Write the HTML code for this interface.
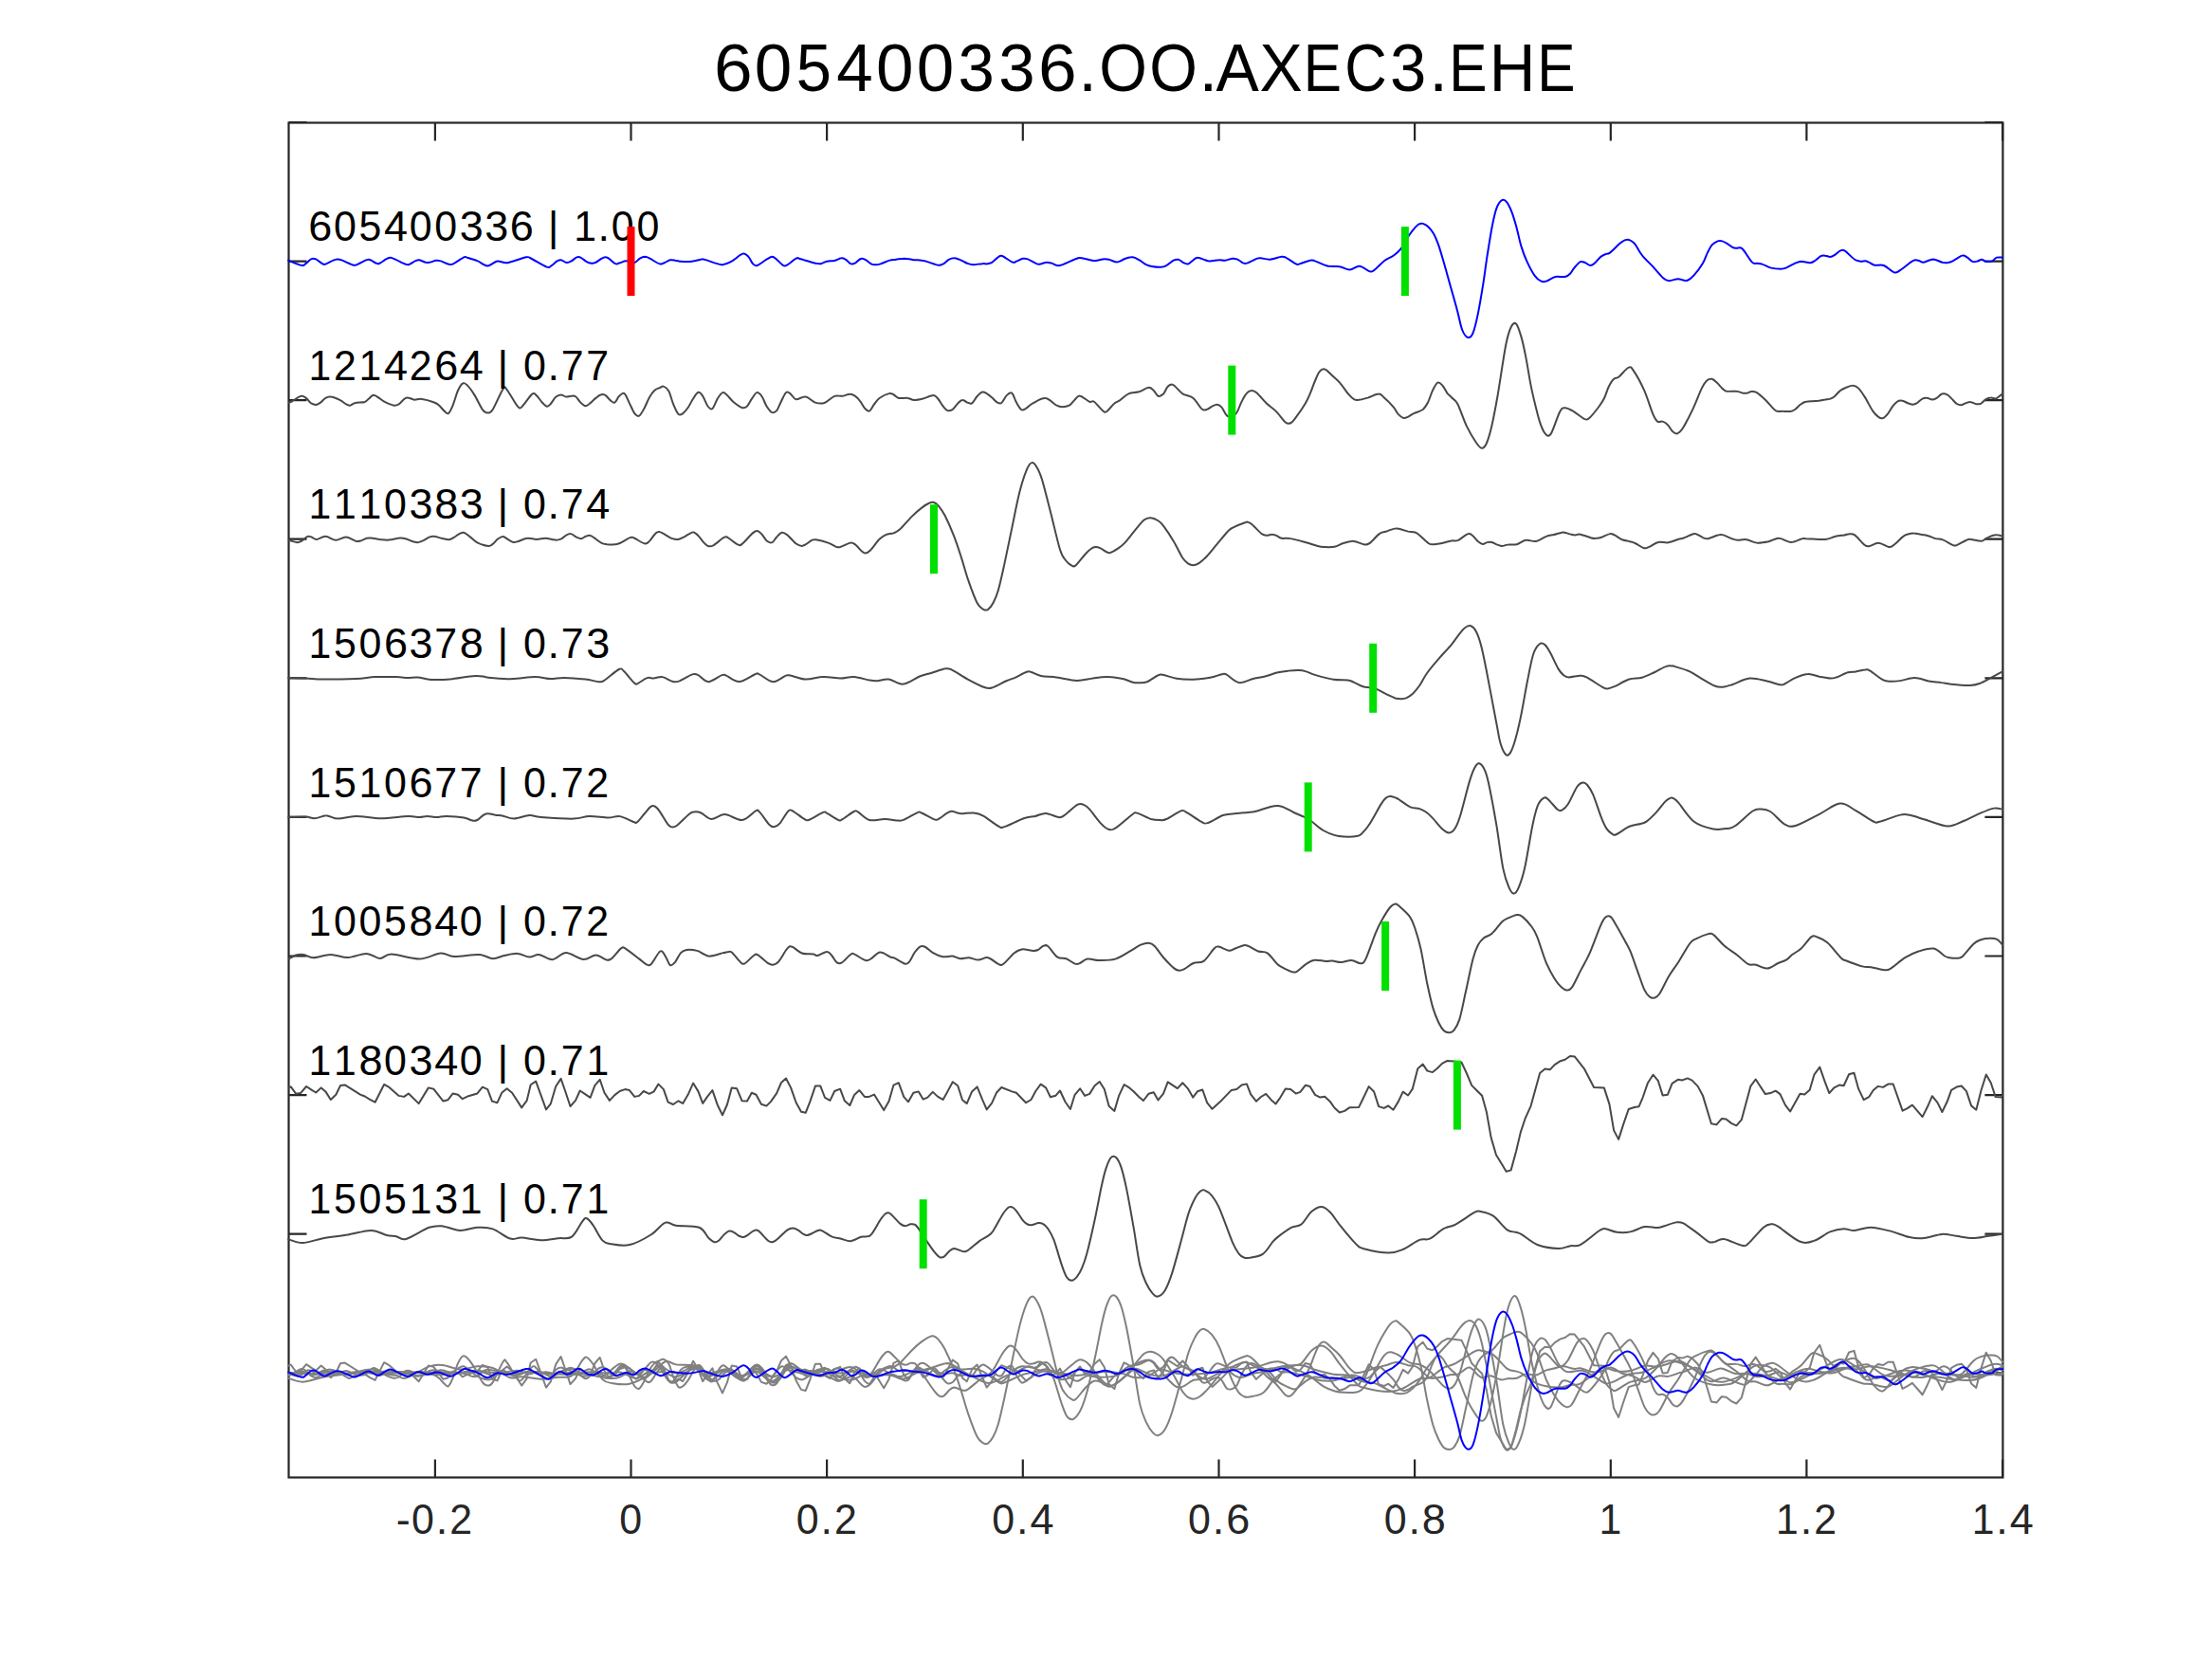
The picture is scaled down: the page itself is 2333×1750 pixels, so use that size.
<!DOCTYPE html>
<html><head><meta charset="utf-8"><style>
html,body{margin:0;padding:0;background:#fff;}
svg{display:block;}
text{font-family:"Liberation Sans",sans-serif;}
.tl{font-size:45px;fill:#262626;}
.ti{font-size:71px;fill:#000;}
.lb{font-size:45px;fill:#000;}
</style></head><body>
<svg width="2333" height="1750" viewBox="0 0 2333 1750">
<defs><path id="tr0" d="M304.1,-0.8C306.5,0.1 315.2,3.9 318.3,4.4C321.4,5.0 320.7,3.8 322.4,2.6C324.1,1.5 326.7,-1.7 328.5,-2.4C330.3,-3.2 331.3,-2.9 333.2,-2.1C335.1,-1.2 338.3,1.8 340.0,2.6C341.7,3.5 341.5,3.7 343.4,3.1C345.3,2.5 349.5,-0.1 351.5,-0.9C353.5,-1.8 354.2,-2.0 355.6,-2.1C357.0,-2.1 357.2,-2.3 359.7,-1.4C362.2,-0.5 367.9,2.4 370.5,3.3C373.1,4.2 372.6,4.8 375.3,4.1C378.0,3.3 384.2,-0.5 386.8,-1.4C389.4,-2.2 389.2,-1.8 390.9,-1.2C392.6,-0.6 395.4,1.7 397.0,2.2C398.6,2.8 398.7,3.0 400.4,2.2C402.1,1.5 405.2,-1.1 407.1,-2.1C409.0,-3.0 410.1,-3.8 411.9,-3.7C413.7,-3.5 415.3,-2.5 418.0,-1.4C420.7,-0.2 425.8,2.6 428.2,3.3C430.6,4.1 430.5,3.7 432.2,3.1C433.9,2.4 436.6,0.3 438.3,-0.4C440.0,-1.1 440.6,-1.5 442.4,-1.2C444.2,-0.9 447.5,0.9 449.2,1.3C450.9,1.8 450.8,1.7 452.6,1.3C454.4,1.0 458.1,-0.5 460.0,-0.8C461.9,-1.0 461.8,-1.1 464.1,-0.4C466.4,0.2 471.2,2.8 473.6,3.3C476.0,3.9 475.8,3.9 478.4,2.6C481.0,1.4 486.8,-3.1 489.2,-4.2C491.6,-5.2 490.2,-4.5 492.6,-3.9C495.0,-3.2 499.8,-1.9 503.4,-0.4C507.0,1.0 510.8,4.9 514.3,4.9C517.8,5.0 521.0,0.5 524.5,-0.1C528.0,-0.6 530.2,2.2 535.3,1.6C540.4,0.9 550.8,-3.4 555.0,-4.2C559.2,-4.9 556.8,-4.5 560.4,-2.8C564.0,-1.0 573.2,4.8 576.7,6.1C580.2,7.3 579.6,6.0 581.4,4.9C583.2,3.9 585.8,1.0 587.5,-0.1C589.2,-1.1 589.9,-1.6 591.6,-1.4C593.3,-1.1 595.7,1.2 597.5,1.4C599.3,1.7 600.4,1.1 602.2,0.1C604.0,-0.8 606.6,-3.6 608.3,-4.2C610.0,-4.9 610.6,-4.8 612.4,-3.9C614.2,-3.1 617.3,-0.2 619.2,0.8C621.1,1.9 622.4,2.0 623.9,2.1C625.4,2.2 625.5,2.5 628.0,1.4C630.5,0.4 635.3,-4.4 638.8,-4.2C642.3,-4.1 646.5,1.6 649.0,2.6C651.5,3.6 651.8,2.2 653.7,1.8C655.6,1.3 658.0,-0.2 660.5,-0.2C663.0,-0.2 666.3,2.2 668.7,1.8C671.1,1.3 672.9,-1.8 674.8,-2.9C676.7,-3.9 678.5,-4.6 680.2,-4.7C681.9,-4.7 682.3,-4.5 684.9,-3.2C687.5,-2.0 693.1,2.1 695.8,2.8C698.5,3.6 699.4,2.1 701.2,1.4C703.0,0.8 704.8,-0.9 706.6,-1.2C708.4,-1.6 710.3,-1.2 712.1,-0.9C713.9,-0.7 714.6,-0.0 717.5,0.1C720.4,0.3 726.1,0.5 729.7,0.1C733.3,-0.2 736.9,-1.6 739.2,-1.9C741.5,-2.2 739.7,-2.6 743.3,-1.7C746.9,-0.8 756.2,3.3 760.9,3.6C765.6,3.9 768.0,2.1 771.7,0.1C775.4,-1.8 780.3,-7.1 783.3,-7.9C786.2,-8.7 787.6,-6.5 789.4,-4.7C791.2,-2.9 792.5,1.3 794.1,2.8C795.7,4.4 796.5,5.2 798.9,4.4C801.3,3.7 805.8,-0.3 808.4,-1.9C811.0,-3.4 812.7,-4.7 814.5,-4.7C816.3,-4.7 817.4,-3.3 819.2,-1.9C821.0,-0.4 823.6,2.9 825.3,3.9C827.0,5.0 827.0,5.6 829.4,4.4C831.8,3.3 837.2,-1.7 839.6,-2.9C842.0,-4.0 840.2,-3.4 843.6,-2.6C847.0,-1.7 856.2,1.3 859.9,2.1C863.6,3.0 864.0,2.9 866.0,2.6C868.0,2.2 869.8,0.7 872.1,0.1C874.4,-0.4 877.4,0.0 880.0,-0.6C882.6,-1.1 885.5,-3.1 887.5,-3.2C889.5,-3.4 890.6,-2.6 892.2,-1.7C893.8,-0.7 895.4,1.9 897.0,2.6C898.6,3.2 899.9,3.0 901.7,2.1C903.5,1.3 906.0,-1.9 907.8,-2.6C909.6,-3.2 910.8,-2.6 912.6,-1.7C914.4,-0.8 916.9,1.9 918.7,2.8C920.5,3.8 921.7,3.8 923.4,3.8C925.1,3.8 926.3,3.6 928.8,2.8C931.3,2.0 935.6,-0.2 938.3,-0.9C941.0,-1.7 942.5,-1.5 945.1,-1.9C947.7,-2.2 950.7,-2.9 953.9,-2.9C957.1,-2.8 961.0,-1.8 964.1,-1.4C967.2,-1.1 969.7,-1.3 972.2,-0.9C974.7,-0.6 976.0,-0.0 979.0,0.8C982.0,1.7 987.2,4.0 989.9,4.2C992.6,4.5 993.5,3.5 995.3,2.6C997.1,1.6 998.9,-0.7 1000.7,-1.7C1002.5,-2.6 1004.3,-3.2 1006.1,-3.2C1007.9,-3.3 1009.1,-2.8 1011.6,-1.9C1014.1,-0.9 1018.6,1.7 1021.1,2.6C1023.6,3.5 1024.0,3.6 1026.5,3.6C1029.0,3.6 1033.5,2.7 1036.0,2.6C1038.5,2.4 1039.7,3.0 1041.4,2.8C1043.1,2.7 1044.3,2.6 1046.1,1.4C1047.9,0.3 1050.5,-2.8 1052.3,-3.9C1054.1,-5.1 1054.4,-6.4 1057.0,-5.6C1059.6,-4.7 1065.2,0.2 1067.8,1.1C1070.4,2.0 1070.9,0.4 1072.6,-0.2C1074.3,-0.8 1076.2,-2.2 1078.0,-2.6C1079.8,-2.9 1080.8,-3.3 1083.4,-2.4C1086.0,-1.5 1091.1,2.0 1093.6,2.8C1096.1,3.7 1096.7,2.9 1098.4,2.6C1100.1,2.3 1102.0,1.1 1103.8,1.1C1105.6,1.0 1107.4,1.6 1109.2,2.1C1111.0,2.7 1112.8,4.2 1114.6,4.4C1116.4,4.7 1116.7,5.0 1120.1,3.8C1123.5,2.7 1131.7,-1.3 1135.0,-2.6C1138.3,-3.8 1137.2,-3.8 1139.7,-3.6C1142.2,-3.3 1147.3,-1.8 1149.9,-1.2C1152.5,-0.8 1152.8,-0.4 1155.3,-0.6C1157.8,-0.7 1162.3,-2.2 1164.8,-2.4C1167.3,-2.5 1168.2,-2.2 1170.2,-1.7C1172.2,-1.1 1175.0,0.5 1176.8,0.8C1178.6,1.1 1179.3,0.7 1180.9,0.1C1182.5,-0.4 1184.3,-1.8 1186.3,-2.6C1188.3,-3.3 1191.3,-4.1 1193.1,-4.2C1194.9,-4.4 1195.5,-4.3 1197.1,-3.7C1198.7,-3.0 1200.6,-1.8 1202.6,-0.6C1204.6,0.7 1207.0,2.9 1209.3,3.9C1211.5,5.0 1213.6,5.5 1216.1,5.8C1218.6,6.2 1222.0,6.4 1224.3,6.2C1226.6,6.1 1227.5,6.0 1229.7,4.8C1232.0,3.7 1235.5,0.2 1237.8,-0.9C1240.0,-1.9 1241.4,-2.1 1243.2,-1.7C1245.0,-1.2 1247.0,1.2 1248.7,1.9C1250.4,2.7 1251.8,3.3 1253.4,2.8C1255.0,2.4 1256.5,0.2 1258.2,-0.9C1259.9,-2.1 1260.9,-4.1 1263.6,-3.9C1266.3,-3.8 1270.8,-0.7 1274.4,-0.2C1278.0,0.2 1282.3,-1.1 1285.3,-1.2C1288.2,-1.4 1289.6,-0.7 1292.1,-0.9C1294.6,-1.2 1298.0,-2.7 1300.2,-2.9C1302.5,-3.0 1303.8,-2.4 1305.6,-1.7C1307.4,-0.9 1309.5,1.1 1311.1,1.8C1312.7,2.4 1312.6,2.9 1315.1,2.1C1317.6,1.4 1323.5,-2.0 1326.0,-2.9C1328.5,-3.8 1327.8,-3.4 1330.0,-3.2C1332.2,-3.1 1335.9,-1.6 1339.5,-1.9C1343.1,-2.1 1348.8,-4.4 1351.7,-4.7C1354.7,-4.9 1354.7,-4.5 1357.2,-3.2C1359.7,-2.0 1364.5,1.8 1366.7,2.8C1369.0,3.9 1368.2,3.5 1370.7,2.8C1373.2,2.2 1378.9,-0.4 1381.6,-0.9C1384.3,-1.5 1383.8,-1.3 1387.0,-0.2C1390.2,0.8 1396.3,4.2 1400.6,5.1C1404.9,6.1 1409.0,4.9 1412.8,5.6C1416.6,6.2 1420.1,9.0 1423.6,8.9C1427.1,8.9 1430.3,4.8 1433.8,5.1C1437.3,5.4 1442.1,10.1 1444.7,10.8C1447.3,11.4 1446.8,11.2 1449.4,9.3C1452.0,7.5 1456.9,2.0 1460.2,-0.6C1463.5,-3.1 1466.6,-3.6 1469.5,-5.8C1472.4,-7.9 1474.9,-9.7 1477.6,-13.2C1480.3,-16.7 1483.3,-23.0 1485.8,-26.8C1488.3,-30.5 1490.8,-33.5 1492.6,-35.6C1494.4,-37.6 1495.2,-38.6 1496.6,-39.2C1497.9,-39.9 1499.1,-40.1 1500.7,-39.7C1502.3,-39.2 1504.2,-38.3 1506.1,-36.5C1508.0,-34.6 1510.3,-32.2 1512.2,-28.8C1514.1,-25.3 1515.7,-21.4 1517.6,-15.9C1519.5,-10.3 1521.5,-3.0 1523.7,4.4C1525.9,11.9 1528.2,20.7 1530.5,28.8C1532.8,37.0 1535.4,46.0 1537.3,53.2C1539.2,60.5 1540.3,67.7 1542.1,72.2C1543.9,76.8 1546.3,79.9 1548.2,80.4C1550.1,81.0 1551.8,79.9 1553.6,75.6C1555.4,71.3 1557.2,63.3 1559.0,54.6C1560.8,45.9 1562.8,33.4 1564.4,23.4C1566.0,13.5 1566.9,5.1 1568.5,-5.1C1570.1,-15.2 1572.2,-29.0 1573.9,-37.6C1575.6,-46.1 1577.0,-52.1 1578.7,-56.6C1580.4,-61.0 1582.3,-63.6 1584.1,-64.5C1585.9,-65.4 1587.7,-64.3 1589.5,-62.0C1591.3,-59.6 1593.3,-55.0 1595.0,-50.5C1596.7,-45.9 1598.1,-40.6 1599.7,-34.9C1601.3,-29.1 1602.6,-21.7 1604.4,-15.9C1606.2,-10.0 1608.1,-4.8 1610.5,0.4C1612.9,5.6 1616.2,11.9 1618.7,15.3C1621.2,18.8 1623.5,20.2 1625.5,21.1C1627.5,22.1 1628.4,21.9 1630.9,21.1C1633.4,20.4 1637.1,17.2 1640.4,16.4C1643.7,15.7 1648.0,17.0 1650.6,16.4C1653.2,15.9 1654.3,14.9 1656.0,13.2C1657.7,11.6 1658.9,8.7 1660.7,6.6C1662.5,4.5 1665.0,1.5 1666.8,0.6C1668.6,-0.2 1669.9,0.8 1671.6,1.4C1673.3,2.1 1675.3,4.3 1677.0,4.4C1678.7,4.6 1680.0,3.6 1681.8,2.1C1683.6,0.7 1686.0,-2.8 1687.9,-4.4C1689.8,-5.9 1691.6,-6.6 1693.3,-7.4C1695.0,-8.1 1695.5,-7.0 1698.0,-8.9C1700.5,-10.7 1705.5,-16.3 1708.2,-18.6C1710.9,-20.8 1712.5,-21.7 1714.3,-22.4C1716.1,-23.0 1717.4,-23.0 1719.1,-22.2C1720.8,-21.5 1722.7,-20.1 1724.5,-17.9C1726.3,-15.7 1728.1,-11.7 1729.9,-9.1C1731.7,-6.5 1733.0,-4.8 1735.3,-2.4C1737.6,0.1 1740.4,2.5 1743.5,5.8C1746.6,9.2 1751.3,15.1 1754.1,17.6C1756.9,20.0 1757.6,20.4 1760.2,20.6C1762.8,20.7 1767.2,18.7 1769.7,18.6C1772.2,18.5 1773.4,19.7 1775.1,19.9C1776.8,20.2 1777.9,21.1 1779.8,20.2C1781.7,19.4 1783.9,17.9 1786.6,14.8C1789.3,11.8 1793.7,5.9 1796.1,1.9C1798.5,-2.0 1799.3,-5.8 1800.9,-8.9C1802.5,-12.1 1803.8,-15.0 1805.6,-17.1C1807.4,-19.1 1809.9,-20.5 1811.7,-21.2C1813.5,-21.8 1814.8,-21.6 1816.5,-21.2C1818.2,-20.7 1820.1,-19.5 1821.9,-18.4C1823.7,-17.4 1825.7,-15.5 1827.3,-14.7C1828.9,-13.9 1829.7,-13.9 1831.4,-13.7C1833.1,-13.4 1834.8,-15.7 1837.5,-13.2C1840.2,-10.8 1845.1,-1.8 1847.7,0.8C1850.3,3.4 1851.3,2.0 1853.1,2.3C1854.9,2.7 1856.0,2.3 1858.5,3.1C1861.0,3.8 1864.7,6.2 1868.0,7.1C1871.3,7.9 1875.6,8.1 1878.2,8.1C1880.8,8.1 1881.0,8.1 1883.6,7.1C1886.2,6.0 1891.1,3.1 1893.8,1.9C1896.5,0.8 1897.4,0.4 1900.0,0.3C1902.6,0.3 1907.0,1.8 1909.4,1.6C1911.8,1.5 1912.8,0.4 1914.6,-0.8C1916.4,-1.9 1918.6,-4.5 1920.3,-5.4C1922.0,-6.2 1923.3,-6.1 1925.0,-5.9C1926.7,-5.8 1928.6,-4.5 1930.2,-4.6C1931.8,-4.6 1933.0,-5.3 1934.8,-6.4C1936.6,-7.5 1939.3,-10.4 1941.1,-11.2C1942.9,-11.9 1943.3,-12.5 1945.8,-10.9C1948.3,-9.4 1953.4,-3.6 1956.2,-1.8C1959.0,0.1 1960.5,-0.2 1962.4,0.1C1964.3,0.3 1966.0,-0.4 1967.6,-0.2C1969.1,0.1 1970.1,0.6 1971.7,1.3C1973.3,2.1 1974.5,3.7 1977.0,4.2C1979.5,4.8 1983.3,3.2 1986.8,4.4C1990.2,5.7 1994.8,10.9 1997.7,11.8C2000.6,12.6 2000.7,11.7 2004.0,9.6C2007.3,7.6 2014.3,1.3 2017.5,-0.4C2020.7,-2.2 2021.3,-1.0 2023.2,-0.8C2025.1,-0.5 2026.3,1.3 2028.9,1.1C2031.5,0.8 2035.5,-2.1 2038.8,-2.1C2042.1,-2.0 2046.2,0.7 2048.7,1.3C2051.2,1.9 2052.1,1.8 2053.9,1.6C2055.7,1.3 2057.0,1.1 2059.6,-0.2C2062.2,-1.4 2067.0,-5.3 2069.5,-5.9C2072.0,-6.6 2072.9,-5.1 2074.7,-4.1C2076.5,-3.0 2078.7,-0.3 2080.4,0.3C2082.1,1.0 2083.4,0.4 2085.1,0.1C2086.8,-0.3 2088.8,-1.8 2090.3,-1.8C2091.8,-1.7 2092.2,-0.2 2093.9,0.1C2095.6,0.4 2098.7,0.7 2100.7,0.1C2102.7,-0.6 2104.0,-3.2 2105.9,-3.9C2107.8,-4.5 2111.1,-3.9 2112.1,-3.9"/><path id="tr1" d="M304.7,2.5C305.3,2.2 306.0,2.2 308.1,1.1C310.2,-0.1 315.1,-3.8 317.6,-4.3C320.1,-4.9 321.4,-3.2 323.1,-2.0C324.8,-0.8 326.1,1.7 327.8,2.9C329.5,4.0 331.5,4.8 333.2,4.8C334.9,4.7 336.3,3.6 338.0,2.5C339.7,1.3 341.6,-1.3 343.4,-2.3C345.2,-3.4 346.3,-4.0 348.8,-3.6C351.3,-3.3 355.6,-1.5 358.3,-0.2C361.0,1.1 363.3,3.2 365.1,4.2C366.9,5.1 367.6,5.8 369.2,5.6C370.8,5.3 372.0,3.5 374.6,2.9C377.2,2.2 382.3,2.6 384.8,1.8C387.3,0.9 387.8,-0.9 389.5,-2.0C391.2,-3.2 392.2,-5.9 394.9,-5.2C397.6,-4.6 402.4,-0.0 405.8,1.8C409.2,3.5 412.8,5.1 415.3,5.5C417.8,5.9 418.8,5.3 420.7,4.2C422.6,3.0 425.1,-0.5 426.8,-1.6C428.5,-2.8 429.2,-2.7 430.9,-2.5C432.6,-2.4 434.6,-0.8 437.0,-0.5C439.4,-0.3 441.7,-1.7 445.1,-1.2C448.5,-0.8 454.4,1.0 457.3,2.1C460.2,3.1 461.0,3.7 462.8,5.2C464.6,6.6 466.5,9.5 468.2,11.0C469.9,12.4 471.3,14.9 472.9,14.0C474.5,13.0 476.0,9.2 477.7,5.2C479.4,1.1 481.3,-6.6 483.1,-10.4C484.9,-14.3 486.7,-17.3 488.5,-17.9C490.3,-18.6 492.0,-16.7 494.0,-14.5C496.0,-12.4 498.2,-9.1 500.7,-5.0C503.2,-1.0 506.6,6.8 508.9,9.9C511.2,12.9 512.5,13.3 514.3,13.3C516.1,13.3 517.0,14.0 519.7,9.9C522.4,5.7 528.1,-8.3 530.6,-11.8C533.1,-15.3 532.1,-14.1 534.6,-11.1C537.1,-8.2 542.9,2.8 545.5,5.9C548.1,8.9 547.6,9.2 550.2,7.2C552.8,5.1 558.5,-4.3 561.1,-6.3C563.7,-8.4 564.1,-6.4 565.8,-5.0C567.5,-3.7 569.5,-0.2 571.3,1.8C573.1,3.7 575.1,6.2 576.7,6.6C578.3,6.9 579.2,5.4 580.8,3.8C582.4,2.1 584.4,-1.8 586.2,-3.3C588.0,-4.9 589.8,-5.7 591.6,-5.7C593.4,-5.8 595.0,-3.9 596.8,-3.6C598.6,-3.4 600.5,-4.3 602.2,-4.3C603.9,-4.4 605.3,-5.1 607.0,-3.9C608.7,-2.8 610.6,0.8 612.4,2.5C614.2,4.1 616.0,6.1 617.8,6.1C619.6,6.1 621.4,3.9 623.2,2.5C625.0,1.0 627.0,-1.2 628.7,-2.5C630.4,-3.9 631.8,-5.3 633.4,-5.7C635.0,-6.2 636.4,-6.4 638.1,-5.4C639.8,-4.5 641.9,-1.4 643.6,-0.0C645.3,1.3 646.7,3.2 648.3,2.5C649.9,1.7 651.4,-2.8 653.1,-4.3C654.8,-5.9 656.7,-8.3 658.5,-7.0C660.3,-5.8 662.1,-0.3 663.9,3.2C665.7,6.7 667.6,11.7 669.3,14.0C671.0,16.2 672.4,17.4 674.1,16.5C675.8,15.6 677.7,11.8 679.5,8.6C681.3,5.3 683.1,0.2 684.9,-2.9C686.7,-6.1 688.6,-8.7 690.4,-10.4C692.2,-12.1 694.2,-12.5 695.8,-13.1C697.4,-13.8 698.3,-15.1 699.9,-14.5C701.5,-14.0 703.6,-12.8 705.3,-9.7C707.0,-6.7 708.3,-0.3 710.0,3.8C711.7,7.8 713.8,13.0 715.5,14.7C717.2,16.4 718.5,15.1 720.2,14.0C721.9,12.8 723.8,10.5 725.6,7.9C727.4,5.3 729.3,1.1 731.1,-1.6C732.9,-4.4 734.8,-8.0 736.5,-8.4C738.2,-8.9 739.5,-6.8 741.2,-4.3C742.9,-1.8 745.0,4.4 746.7,6.6C748.4,8.8 749.7,10.2 751.4,8.9C753.1,7.5 755.0,1.2 756.8,-1.6C758.6,-4.5 760.6,-7.4 762.3,-8.0C764.0,-8.6 765.1,-6.9 767.0,-5.2C768.9,-3.5 771.2,-0.0 773.8,2.2C776.4,4.3 780.2,7.2 782.6,7.9C785.0,8.5 786.3,7.8 788.0,6.3C789.7,4.7 791.1,1.1 792.8,-1.2C794.5,-3.6 796.4,-7.6 798.2,-8.0C800.0,-8.5 801.9,-6.3 803.6,-3.9C805.3,-1.6 806.7,3.3 808.4,6.1C810.1,8.8 812.0,11.8 813.8,12.7C815.6,13.5 817.5,12.9 819.2,11.0C820.9,9.0 822.3,4.3 824.0,1.1C825.7,-2.2 827.7,-7.2 829.4,-8.4C831.1,-9.7 832.4,-7.6 834.1,-6.3C835.8,-5.1 837.0,-1.4 839.6,-0.9C842.2,-0.5 846.3,-4.2 849.7,-3.6C853.1,-3.1 856.6,1.4 859.9,2.5C863.2,3.5 866.0,4.0 869.4,2.9C872.8,1.7 877.1,-3.1 880.2,-4.3C883.3,-5.5 885.4,-4.0 888.1,-4.3C890.8,-4.7 894.0,-6.3 896.3,-6.3C898.6,-6.4 899.9,-5.7 901.7,-4.5C903.5,-3.3 905.4,-1.3 907.1,0.9C908.8,3.0 910.3,6.5 911.9,8.3C913.5,10.0 915.2,12.1 916.9,11.5C918.6,10.8 920.2,6.5 922.0,4.3C923.8,2.0 924.9,-0.3 927.5,-2.1C930.1,-4.0 935.1,-6.4 937.6,-7.0C940.1,-7.7 940.7,-6.7 942.4,-5.9C944.1,-5.1 945.3,-2.9 947.8,-2.2C950.3,-1.6 954.6,-2.6 957.3,-2.2C960.0,-1.9 961.4,-0.2 964.1,-0.1C966.8,-0.0 970.2,-0.8 973.6,-1.6C977.0,-2.5 981.8,-5.2 984.4,-5.2C987.0,-5.2 987.5,-3.6 989.2,-1.6C990.9,0.3 992.9,4.2 994.6,6.3C996.3,8.4 997.7,10.4 999.4,11.0C1001.1,11.5 1003.0,10.9 1004.8,9.7C1006.6,8.4 1008.5,4.9 1010.2,3.3C1011.9,1.6 1013.3,-0.1 1015.0,-0.2C1016.7,-0.4 1018.7,1.9 1020.4,2.5C1022.1,3.0 1023.4,4.4 1025.1,3.3C1026.8,2.2 1028.8,-2.2 1030.6,-4.1C1032.4,-6.1 1034.3,-8.2 1036.0,-8.6C1037.7,-9.1 1039.0,-8.0 1040.7,-7.0C1042.4,-6.1 1044.3,-4.4 1046.1,-2.8C1047.9,-1.3 1049.9,1.2 1051.6,2.2C1053.3,3.1 1054.6,4.1 1056.3,2.9C1058.0,1.7 1059.9,-3.3 1061.7,-5.0C1063.5,-6.8 1065.5,-8.7 1067.2,-7.5C1068.9,-6.3 1070.2,-0.8 1071.9,2.2C1073.6,5.1 1075.6,9.0 1077.3,10.1C1079.0,11.1 1080.2,9.7 1082.1,8.7C1084.0,7.6 1085.5,5.4 1088.9,3.6C1092.3,1.8 1098.2,-2.4 1102.4,-2.1C1106.6,-1.9 1111.0,3.6 1114.0,5.2C1117.0,6.7 1117.7,7.0 1120.1,7.0C1122.5,7.0 1126.0,6.4 1128.2,5.2C1130.5,3.9 1131.8,1.1 1133.6,-0.5C1135.4,-2.2 1136.5,-4.9 1139.1,-4.5C1141.7,-4.2 1146.7,0.5 1149.2,1.6C1151.7,2.6 1151.4,-0.2 1154.0,1.6C1156.6,3.4 1162.1,11.1 1164.8,12.4C1167.5,13.6 1168.4,10.5 1170.2,9.0C1172.0,7.4 1173.6,4.7 1175.4,3.3C1177.2,1.8 1178.4,1.8 1180.9,0.2C1183.4,-1.5 1186.9,-5.3 1190.3,-6.8C1193.7,-8.4 1197.7,-7.9 1201.2,-8.9C1204.7,-10.0 1208.8,-13.1 1211.4,-13.3C1214.0,-13.6 1215.1,-11.7 1216.8,-10.2C1218.5,-8.8 1219.8,-5.0 1221.5,-4.4C1223.2,-3.8 1225.3,-5.0 1227.0,-6.6C1228.7,-8.3 1230.0,-12.7 1231.7,-14.3C1233.4,-16.0 1234.5,-17.6 1237.1,-16.3C1239.7,-15.1 1243.8,-9.2 1247.3,-6.8C1250.8,-4.5 1254.8,-5.1 1258.2,-2.4C1261.6,0.3 1265.2,7.3 1267.7,9.4C1270.2,11.4 1271.3,10.1 1273.1,9.7C1274.9,9.2 1276.7,7.3 1278.5,6.5C1280.3,5.6 1282.2,4.4 1283.9,4.7C1285.6,4.9 1286.9,5.7 1288.7,7.8C1290.5,9.8 1292.3,15.8 1294.8,16.9C1297.3,17.9 1301.2,16.5 1303.6,14.2C1306.0,11.8 1307.2,6.2 1309.0,2.7C1310.8,-0.8 1312.6,-4.7 1314.4,-6.8C1316.2,-9.0 1318.1,-10.1 1319.9,-10.2C1321.7,-10.4 1322.6,-10.3 1325.3,-7.9C1328.0,-5.6 1332.7,0.4 1336.1,3.7C1339.5,6.9 1342.3,8.2 1345.6,11.5C1348.9,14.7 1353.2,21.2 1355.8,23.3C1358.4,25.4 1359.4,24.9 1361.2,24.1C1363.0,23.2 1364.1,21.7 1366.7,18.3C1369.3,14.8 1374.2,7.7 1376.8,3.3C1379.4,-1.2 1380.6,-4.3 1382.3,-8.2C1384.0,-12.2 1385.4,-16.8 1387.0,-20.4C1388.6,-24.1 1390.1,-28.2 1391.8,-30.2C1393.5,-32.3 1395.1,-33.3 1397.2,-32.6C1399.3,-32.0 1402.0,-28.8 1404.6,-26.5C1407.2,-24.2 1409.8,-22.2 1412.8,-18.8C1415.8,-15.5 1419.7,-9.3 1422.3,-6.2C1424.9,-3.2 1426.6,-1.7 1428.4,-0.7C1430.2,0.2 1430.7,-0.0 1433.1,-0.3C1435.5,-0.6 1439.1,-1.5 1442.6,-2.5C1446.1,-3.6 1451.3,-6.6 1454.1,-6.6C1456.9,-6.7 1457.0,-5.3 1459.6,-3.0C1462.2,-0.8 1467.0,3.9 1469.5,6.9C1472.0,9.9 1473.1,13.0 1474.9,15.0C1476.7,16.9 1478.6,18.3 1480.3,18.8C1482.0,19.2 1483.3,18.3 1485.1,17.5C1486.9,16.7 1488.6,15.2 1491.2,14.0C1493.8,12.7 1498.2,11.8 1500.7,9.9C1503.2,7.9 1504.4,5.5 1506.1,2.2C1507.8,-1.2 1509.2,-6.6 1510.9,-10.0C1512.6,-13.5 1514.5,-17.8 1516.3,-18.6C1518.1,-19.5 1520.0,-17.0 1521.7,-15.1C1523.4,-13.3 1524.9,-9.4 1526.5,-7.3C1528.1,-5.3 1529.4,-4.5 1531.2,-2.6C1533.0,-0.8 1534.7,-1.1 1537.3,3.9C1539.9,8.8 1543.5,20.4 1546.8,27.3C1550.1,34.1 1554.3,41.0 1557.0,44.9C1559.7,48.7 1561.0,50.4 1562.8,50.6C1564.6,50.7 1566.0,49.4 1567.8,45.6C1569.5,41.7 1571.4,35.5 1573.3,27.3C1575.2,19.0 1576.9,10.3 1579.4,-3.9C1581.9,-18.2 1585.8,-46.1 1588.2,-58.2C1590.6,-70.4 1591.8,-73.2 1593.6,-76.9C1595.4,-80.7 1597.2,-82.3 1599.0,-80.6C1600.8,-79.0 1602.7,-72.8 1604.4,-67.0C1606.1,-61.3 1607.5,-54.6 1609.2,-46.0C1610.9,-37.5 1612.9,-24.1 1614.6,-15.5C1616.3,-6.9 1617.8,-0.9 1619.4,5.6C1621.0,12.0 1622.4,18.3 1624.1,23.2C1625.8,28.1 1627.6,32.9 1629.5,35.0C1631.4,37.1 1633.0,39.5 1635.6,35.8C1638.2,32.0 1642.6,16.9 1645.1,12.3C1647.6,7.6 1648.2,8.1 1650.6,8.0C1653.0,7.9 1656.0,9.7 1659.4,11.7C1662.8,13.6 1668.1,18.6 1670.9,19.8C1673.7,20.9 1673.8,20.8 1676.3,18.8C1678.8,16.7 1683.2,11.0 1685.8,7.6C1688.4,4.1 1690.1,1.7 1691.9,-1.9C1693.7,-5.6 1695.0,-10.7 1696.7,-14.1C1698.4,-17.5 1700.3,-20.6 1702.1,-22.3C1703.9,-24.1 1704.9,-22.7 1707.5,-24.7C1710.1,-26.8 1715.1,-33.5 1717.7,-34.5C1720.3,-35.6 1720.4,-34.8 1723.1,-30.8C1725.8,-26.9 1730.6,-18.4 1734.0,-10.7C1737.4,-3.1 1741.1,9.4 1743.5,15.0C1745.9,20.5 1746.5,21.2 1748.2,22.5C1749.9,23.7 1751.8,21.9 1753.6,22.5C1755.4,23.0 1757.0,24.1 1758.8,25.9C1760.6,27.6 1762.5,31.6 1764.2,33.2C1765.9,34.7 1767.2,35.8 1769.0,35.2C1770.8,34.5 1772.3,33.5 1775.1,29.1C1777.9,24.6 1782.6,15.4 1785.9,8.5C1789.2,1.5 1792.4,-7.7 1794.8,-12.5C1797.2,-17.4 1798.4,-19.1 1800.2,-20.7C1802.0,-22.4 1803.8,-22.7 1805.6,-22.3C1807.4,-21.9 1809.2,-20.0 1811.0,-18.3C1812.8,-16.7 1814.8,-14.0 1816.5,-12.5C1818.2,-11.1 1818.7,-10.0 1821.2,-9.4C1823.7,-8.9 1828.6,-9.8 1831.4,-9.4C1834.2,-9.1 1836.3,-7.9 1838.2,-7.5C1840.1,-7.2 1841.4,-7.3 1842.9,-7.5C1844.4,-7.8 1845.4,-9.0 1847.0,-9.1C1848.6,-9.3 1849.9,-9.7 1852.4,-8.2C1854.9,-6.8 1858.5,-3.5 1861.9,-0.3C1865.3,2.8 1869.7,8.9 1872.7,10.9C1875.8,12.8 1877.6,11.4 1880.2,11.6C1882.8,11.7 1886.2,12.1 1888.3,11.9C1890.4,11.6 1891.3,11.1 1893.1,9.9C1894.9,8.6 1897.3,5.7 1899.2,4.4C1901.1,3.0 1902.6,2.2 1904.6,1.7C1906.6,1.1 1909.1,1.1 1911.4,1.0C1913.7,0.8 1915.9,0.8 1918.2,0.6C1920.5,0.3 1923.1,-0.4 1925.0,-0.7C1926.9,-1.1 1928.1,-0.8 1929.7,-1.3C1931.3,-1.8 1932.7,-2.3 1934.5,-3.7C1936.3,-5.2 1938.6,-8.3 1940.6,-9.8C1942.6,-11.4 1944.3,-12.3 1946.7,-13.2C1949.1,-14.2 1952.5,-15.7 1954.8,-15.5C1957.0,-15.4 1958.2,-14.6 1960.2,-12.5C1962.2,-10.5 1964.5,-7.0 1967.0,-3.0C1969.5,0.9 1972.7,7.7 1975.1,11.2C1977.5,14.6 1979.4,16.4 1981.2,17.7C1983.0,19.0 1984.3,19.6 1986.0,19.0C1987.7,18.3 1989.6,16.1 1991.4,13.9C1993.2,11.7 1995.0,7.9 1996.7,5.8C1998.4,3.6 2000.2,1.7 2001.8,0.9C2003.4,0.0 2004.9,0.3 2006.6,0.7C2008.3,1.0 2010.4,2.4 2012.2,3.1C2014.0,3.7 2015.7,4.6 2017.3,4.6C2018.9,4.5 2020.3,3.9 2022.0,2.9C2023.7,1.8 2025.9,-0.7 2027.6,-1.5C2029.3,-2.4 2030.6,-2.5 2032.3,-2.3C2034.0,-2.2 2036.2,-0.6 2037.9,-0.6C2039.6,-0.6 2040.9,-1.3 2042.6,-2.3C2044.3,-3.3 2046.4,-6.0 2048.2,-6.6C2050.0,-7.3 2051.7,-6.9 2053.4,-6.0C2055.1,-5.2 2056.8,-3.2 2058.5,-1.5C2060.2,0.1 2062.0,2.6 2063.7,3.7C2065.4,4.7 2067.1,5.1 2068.8,5.0C2070.5,4.8 2072.3,3.3 2074.0,2.8C2075.7,2.3 2077.0,1.7 2078.7,2.0C2080.4,2.2 2082.5,3.8 2084.3,4.1C2086.1,4.3 2087.8,4.2 2089.5,3.4C2091.2,2.5 2092.9,-0.0 2094.6,-1.0C2096.3,-2.0 2098.1,-2.5 2099.8,-2.6C2101.5,-2.8 2103.3,-1.4 2104.9,-1.7C2106.5,-2.1 2108.0,-3.7 2109.2,-4.5C2110.4,-5.4 2111.7,-6.6 2112.2,-7.0"/><path id="tr2" d="M304.7,1.1C306.2,1.5 311.2,3.3 313.6,3.4C316.0,3.4 317.2,2.4 319.0,1.4C320.8,0.3 322.8,-2.3 324.4,-2.9C326.0,-3.5 326.9,-2.8 328.5,-2.3C330.1,-1.8 331.4,0.3 333.9,0.2C336.4,0.1 340.0,-3.1 343.4,-2.9C346.8,-2.8 350.7,1.0 354.3,1.1C357.9,1.2 361.5,-2.5 365.1,-2.3C368.7,-2.1 373.2,1.6 375.9,2.2C378.6,2.8 379.6,1.9 381.4,1.4C383.2,0.9 385.2,-0.5 386.8,-0.9C388.4,-1.4 388.6,-1.5 390.9,-1.3C393.2,-1.1 397.5,-0.2 400.4,0.2C403.3,0.5 406.2,0.9 408.5,0.9C410.8,0.9 411.6,0.5 413.9,0.2C416.2,-0.2 419.8,-1.1 422.1,-1.2C424.4,-1.3 425.2,-1.1 427.5,-0.5C429.8,0.1 433.3,1.8 435.6,2.5C437.9,3.1 439.3,3.6 441.1,3.4C442.9,3.2 444.5,2.3 446.5,1.4C448.5,0.4 451.4,-1.6 453.3,-2.3C455.2,-3.0 456.0,-3.2 458.0,-2.9C460.0,-2.7 462.9,-1.5 465.5,-0.9C468.1,-0.4 471.5,0.6 473.6,0.5C475.8,0.4 476.6,-0.6 478.4,-1.6C480.2,-2.6 482.7,-4.7 484.5,-5.6C486.3,-6.5 487.4,-7.5 489.2,-7.0C491.0,-6.6 492.9,-4.7 495.3,-2.9C497.7,-1.2 500.1,1.9 503.4,3.6C506.7,5.3 512.3,6.9 515.0,7.2C517.7,7.4 518.0,6.4 519.7,5.2C521.4,3.9 523.3,1.1 525.1,-0.2C526.9,-1.5 528.8,-2.8 530.6,-2.7C532.4,-2.6 534.2,-0.5 536.0,0.5C537.8,1.5 539.6,2.9 541.4,3.2C543.2,3.5 544.3,2.9 546.8,2.2C549.3,1.5 553.1,-0.6 556.3,-0.9C559.5,-1.3 562.6,0.2 565.8,0.2C569.0,0.2 572.6,-0.9 575.3,-0.9C578.0,-0.9 580.1,-0.1 582.1,0.2C584.1,0.5 585.7,1.1 587.5,0.9C589.3,0.7 591.5,-0.1 593.0,-0.9C594.5,-1.7 595.3,-3.1 596.8,-3.9C598.3,-4.7 600.4,-5.9 602.2,-5.6C604.0,-5.4 605.8,-3.2 607.6,-2.3C609.4,-1.5 611.4,-0.4 613.1,-0.5C614.8,-0.6 616.1,-2.4 617.8,-2.9C619.5,-3.4 620.5,-4.8 623.2,-3.6C625.9,-2.5 631.3,2.4 634.1,3.9C636.9,5.4 637.8,5.2 640.2,5.5C642.6,5.7 646.0,5.7 648.3,5.5C650.5,5.3 651.0,5.5 653.7,4.3C656.4,3.1 662.1,-0.7 664.6,-1.6C667.1,-2.5 666.1,-2.3 668.7,-1.2C671.3,-0.2 677.4,4.3 680.2,4.8C683.0,5.2 683.8,3.1 685.6,1.4C687.4,-0.4 689.3,-4.1 691.0,-5.6C692.7,-7.1 693.2,-8.4 695.8,-7.7C698.4,-7.1 703.9,-2.9 706.6,-1.6C709.3,-0.3 710.5,-0.2 712.1,0.1C713.7,0.4 714.5,0.5 716.1,0.1C717.7,-0.3 719.8,-1.4 721.6,-2.3C723.4,-3.3 725.3,-4.8 727.0,-5.6C728.7,-6.5 730.1,-7.7 731.7,-7.3C733.3,-7.0 734.7,-5.5 736.5,-3.6C738.3,-1.8 740.8,2.0 742.6,3.9C744.4,5.7 745.6,7.1 747.3,7.5C749.0,7.9 750.1,7.8 752.8,6.3C755.5,4.7 761.1,-0.5 763.6,-1.8C766.1,-3.1 765.2,-2.9 767.7,-1.6C770.2,-0.3 775.9,4.9 778.5,5.9C781.1,6.9 780.7,6.6 783.3,4.5C785.9,2.4 791.5,-4.4 794.1,-6.6C796.7,-8.8 797.3,-9.1 798.9,-8.8C800.5,-8.6 801.9,-6.8 803.6,-5.0C805.3,-3.2 807.2,0.7 809.0,2.1C810.8,3.5 812.8,4.1 814.5,3.4C816.2,2.6 817.5,-0.6 819.2,-2.3C820.9,-4.1 822.8,-6.6 824.6,-7.0C826.4,-7.4 827.6,-6.6 830.1,-4.6C832.6,-2.7 837.0,2.8 839.6,4.8C842.2,6.7 843.9,7.1 845.7,7.2C847.5,7.2 848.7,6.1 850.4,5.2C852.1,4.2 854.1,2.2 855.8,1.4C857.5,0.6 857.6,0.1 860.6,0.5C863.6,0.9 870.0,2.6 873.5,3.9C877.0,5.1 879.5,7.1 881.6,7.9C883.7,8.6 883.5,8.9 886.1,8.3C888.7,7.6 894.3,4.3 897.0,3.9C899.7,3.5 900.5,4.6 902.4,6.0C904.3,7.4 906.8,10.8 908.5,12.3C910.2,13.7 911.0,14.9 912.6,14.8C914.2,14.7 915.5,14.1 918.0,11.7C920.5,9.2 924.8,2.8 927.5,0.1C930.2,-2.6 931.8,-3.5 934.3,-4.6C936.8,-5.7 939.9,-5.5 942.4,-6.4C944.9,-7.4 946.0,-7.6 949.2,-10.4C952.4,-13.3 957.6,-19.8 961.4,-23.6C965.2,-27.4 969.0,-30.7 972.2,-33.1C975.4,-35.6 978.2,-37.3 980.4,-38.2C982.5,-39.2 983.5,-39.3 985.1,-38.8C986.7,-38.3 988.0,-37.4 989.9,-35.1C991.8,-32.8 993.9,-30.3 996.6,-25.0C999.3,-19.7 1003.3,-10.6 1006.1,-3.3C1008.9,3.9 1011.1,10.7 1013.6,18.4C1016.1,26.1 1018.3,34.7 1021.1,42.9C1023.9,51.0 1027.9,62.1 1030.6,67.3C1033.3,72.5 1035.4,72.9 1037.3,74.1C1039.2,75.2 1040.4,75.2 1042.1,74.1C1043.8,72.9 1045.7,70.7 1047.5,67.3C1049.3,63.9 1051.0,60.2 1052.9,53.7C1054.8,47.1 1056.6,38.7 1059.0,27.9C1061.4,17.0 1064.5,1.5 1067.2,-11.4C1069.9,-24.3 1072.7,-39.1 1075.3,-49.4C1077.9,-59.7 1080.6,-67.9 1082.8,-73.1C1085.0,-78.3 1086.4,-80.2 1088.2,-80.6C1090.0,-81.1 1091.8,-78.8 1093.6,-75.8C1095.4,-72.9 1096.6,-70.7 1099.0,-62.9C1101.4,-55.1 1104.7,-41.3 1107.9,-29.0C1111.1,-16.7 1115.3,2.4 1118.0,11.0C1120.7,19.6 1122.2,19.8 1124.1,22.5C1126.0,25.2 1127.9,26.4 1129.6,27.3C1131.3,28.2 1131.8,29.8 1134.3,27.9C1136.8,26.0 1141.8,18.9 1144.5,16.0C1147.2,13.0 1148.8,11.6 1150.6,10.3C1152.4,9.0 1153.6,8.4 1155.3,8.3C1157.0,8.2 1159.0,8.8 1160.8,9.6C1162.6,10.4 1164.5,12.2 1166.2,13.0C1167.9,13.8 1168.7,14.9 1170.9,14.4C1173.1,13.8 1176.9,11.3 1179.5,9.6C1182.1,7.8 1183.4,7.0 1186.3,3.9C1189.2,0.7 1193.7,-5.4 1197.1,-9.4C1200.5,-13.4 1203.9,-18.0 1206.6,-20.2C1209.3,-22.4 1210.9,-22.6 1213.4,-22.5C1215.9,-22.4 1219.2,-20.9 1221.5,-19.5C1223.8,-18.1 1224.3,-17.7 1227.0,-14.1C1229.7,-10.5 1234.4,-3.5 1237.8,2.2C1241.2,7.8 1244.7,15.8 1247.3,19.8C1249.9,23.7 1251.5,24.6 1253.4,25.9C1255.3,27.2 1256.9,27.6 1258.8,27.5C1260.7,27.4 1262.5,26.8 1264.9,25.2C1267.3,23.6 1269.9,21.2 1273.1,17.8C1276.3,14.4 1280.3,9.2 1283.9,4.9C1287.5,0.6 1292.1,-5.2 1294.8,-8.0C1297.5,-10.9 1297.0,-10.5 1300.2,-12.1C1303.4,-13.8 1311.1,-16.9 1313.8,-17.8C1316.5,-18.8 1315.4,-18.2 1316.5,-17.8C1317.6,-17.4 1318.1,-17.6 1320.5,-15.5C1322.9,-13.5 1328.1,-7.6 1330.7,-5.6C1333.3,-3.7 1334.3,-4.0 1336.1,-3.9C1337.9,-3.8 1339.9,-5.1 1341.6,-5.0C1343.3,-5.0 1344.6,-4.4 1346.3,-3.7C1348.0,-3.1 1349.2,-1.5 1351.7,-1.0C1354.2,-0.5 1356.9,-1.4 1361.2,-0.6C1365.5,0.1 1372.8,2.2 1377.5,3.5C1382.2,4.8 1386.5,6.4 1389.7,7.2C1392.9,8.0 1393.5,8.1 1396.5,8.3C1399.5,8.4 1404.0,8.7 1407.4,8.0C1410.8,7.3 1413.9,5.1 1416.8,4.2C1419.7,3.2 1422.8,2.4 1425.0,2.2C1427.2,1.9 1427.3,2.0 1429.7,2.6C1432.1,3.2 1436.7,5.5 1439.2,5.8C1441.7,6.0 1442.1,6.1 1444.7,4.2C1447.3,2.3 1452.0,-3.6 1454.8,-5.6C1457.6,-7.7 1458.9,-7.1 1461.6,-8.0C1464.3,-8.9 1468.5,-10.7 1470.9,-11.1C1473.4,-11.6 1473.9,-11.3 1476.3,-10.8C1478.7,-10.3 1482.6,-8.7 1485.1,-8.1C1487.6,-7.6 1489.4,-7.9 1491.2,-7.4C1493.0,-6.9 1493.3,-7.2 1495.9,-5.2C1498.5,-3.2 1504.0,2.7 1506.8,4.5C1509.6,6.3 1510.5,5.5 1512.9,5.5C1515.3,5.4 1518.1,4.9 1521.0,4.3C1523.9,3.7 1527.7,2.3 1530.5,1.8C1533.3,1.2 1535.0,2.3 1538.0,1.1C1541.0,-0.2 1545.7,-4.8 1548.2,-5.6C1550.7,-6.5 1551.1,-5.4 1552.9,-4.0C1554.7,-2.7 1557.2,0.9 1559.0,2.5C1560.8,4.0 1562.2,5.0 1563.8,5.2C1565.4,5.3 1566.9,3.7 1568.5,3.4C1570.1,3.0 1571.5,2.8 1573.3,3.2C1575.1,3.6 1577.6,5.2 1579.4,5.9C1581.2,6.5 1582.3,7.2 1584.1,7.2C1585.9,7.2 1587.6,6.2 1590.2,5.9C1592.8,5.6 1596.5,6.3 1599.7,5.5C1602.9,4.7 1605.8,1.6 1609.2,1.1C1612.6,0.5 1616.4,2.8 1620.0,2.2C1623.6,1.5 1627.7,-1.8 1630.9,-2.9C1634.1,-4.1 1636.3,-4.0 1639.0,-4.7C1641.7,-5.4 1645.2,-6.7 1647.2,-7.0C1649.2,-7.4 1649.4,-7.1 1651.2,-6.7C1653.0,-6.3 1656.3,-5.1 1658.0,-4.7C1659.7,-4.3 1659.9,-4.3 1661.4,-4.3C1662.9,-4.4 1664.0,-5.5 1666.8,-5.0C1669.6,-4.5 1675.6,-2.0 1678.4,-1.3C1681.2,-0.6 1682.0,-0.8 1683.8,-0.9C1685.6,-1.0 1686.8,-1.2 1689.2,-2.0C1691.6,-2.8 1695.7,-5.2 1698.0,-5.6C1700.3,-6.0 1700.6,-5.3 1702.8,-4.3C1705.0,-3.3 1708.2,-0.7 1710.9,0.5C1713.6,1.6 1716.8,1.8 1719.1,2.5C1721.4,3.1 1722.0,3.1 1724.5,4.3C1727.0,5.4 1731.5,8.8 1734.0,9.5C1736.5,10.1 1736.9,9.2 1739.4,8.2C1741.9,7.1 1745.6,3.9 1748.9,3.2C1752.2,2.4 1755.9,4.1 1759.5,3.6C1763.1,3.1 1767.6,0.9 1770.3,0.1C1773.0,-0.7 1773.2,-0.3 1775.8,-1.2C1778.4,-2.1 1783.5,-4.8 1785.9,-5.4C1788.3,-6.1 1788.3,-5.7 1790.0,-5.0C1791.7,-4.4 1794.2,-2.4 1796.1,-1.6C1798.0,-0.9 1799.0,-0.1 1801.5,-0.5C1804.0,-0.9 1808.5,-3.2 1811.0,-3.9C1813.5,-4.6 1813.8,-5.2 1816.5,-4.6C1819.2,-4.0 1824.6,-1.1 1827.3,-0.2C1830.0,0.7 1830.2,0.8 1832.7,0.9C1835.2,1.0 1838.8,-0.0 1842.2,0.5C1845.6,1.0 1849.2,3.5 1853.1,3.9C1856.9,4.2 1861.9,3.2 1865.3,2.5C1868.7,1.7 1871.2,-0.0 1873.4,-0.5C1875.6,-1.0 1875.6,-1.2 1878.2,-0.6C1880.8,-0.0 1885.4,3.1 1889.0,3.2C1892.6,3.2 1897.3,0.4 1899.9,-0.2C1902.5,-0.9 1900.4,-0.7 1904.6,-0.6C1908.8,-0.6 1919.8,0.6 1925.0,0.2C1930.2,-0.2 1932.4,-2.2 1935.8,-2.9C1939.2,-3.7 1942.8,-3.9 1945.3,-4.3C1947.8,-4.7 1948.9,-5.4 1950.7,-5.4C1952.5,-5.4 1953.6,-6.2 1956.2,-4.3C1958.8,-2.4 1963.8,3.9 1966.3,5.9C1968.8,7.8 1968.6,7.8 1971.1,7.5C1973.6,7.2 1977.7,4.0 1981.2,4.1C1984.7,4.2 1989.4,7.8 1992.1,8.2C1994.8,8.6 1994.6,8.2 1997.1,6.4C1999.6,4.6 2004.5,-0.7 2007.0,-2.6C2009.5,-4.6 2010.3,-4.6 2012.2,-5.2C2014.1,-5.8 2015.9,-6.4 2018.2,-6.3C2020.5,-6.3 2023.3,-5.4 2025.9,-4.9C2028.5,-4.5 2031.0,-4.2 2033.6,-3.5C2036.2,-2.8 2038.8,-1.3 2041.4,-0.6C2044.0,0.1 2046.1,-0.6 2049.1,0.6C2052.1,1.7 2057.0,5.2 2059.4,6.2C2061.8,7.1 2061.3,7.2 2063.7,6.4C2066.1,5.5 2071.5,2.0 2074.0,1.0C2076.5,-0.1 2076.1,-0.0 2078.7,0.2C2081.3,0.4 2086.8,2.2 2089.5,2.1C2092.2,2.0 2092.8,0.4 2094.6,-0.5C2096.4,-1.5 2098.7,-2.9 2100.6,-3.5C2102.5,-4.2 2103.9,-4.6 2105.8,-4.5C2107.7,-4.5 2111.1,-3.4 2112.2,-3.1"/><path id="tr3" d="M304.1,-0.4C307.2,-0.3 316.3,-0.1 322.4,0.2C328.5,0.4 331.9,1.1 340.7,1.2C349.5,1.2 366.1,1.0 375.3,0.6C384.5,0.2 388.5,-0.9 395.6,-1.2C402.7,-1.5 412.2,-1.4 418.0,-1.2C423.8,-1.1 426.5,-0.3 430.2,-0.2C433.9,-0.2 436.3,-1.1 440.4,-0.8C444.5,-0.5 448.9,1.2 454.6,1.6C460.4,1.9 467.1,1.8 474.9,1.2C482.7,0.5 494.3,-2.2 501.4,-2.4C508.5,-2.7 511.3,-1.0 517.7,-0.4C524.1,0.1 532.2,0.9 540.0,0.8C547.8,0.6 557.6,-1.2 564.4,-1.2C571.2,-1.2 575.6,0.6 580.7,0.8C585.8,0.9 588.9,-0.5 595.0,-0.4C601.1,-0.4 611.2,0.5 617.3,1.2C623.4,1.9 628.2,3.7 631.6,3.9C635.0,4.0 634.2,4.4 637.7,2.2C641.2,-0.0 649.5,-7.7 652.9,-9.3C656.3,-10.9 655.3,-9.8 658.0,-7.3C660.7,-4.9 666.7,3.2 669.2,5.3C671.8,7.4 671.1,6.2 673.3,5.3C675.5,4.4 679.7,0.6 682.4,-0.2C685.1,-1.1 686.8,0.3 689.5,0.2C692.2,0.0 695.3,-1.8 698.7,-1.2C702.1,-0.6 706.9,3.0 709.9,3.7C712.9,4.4 713.6,4.1 717.0,2.9C720.4,1.6 727.0,-2.9 730.2,-3.9C733.4,-4.9 733.5,-4.5 736.3,-3.2C739.1,-1.9 742.9,3.9 747.1,3.9C751.3,3.9 758.2,-2.2 761.4,-3.2C764.6,-4.3 763.3,-3.6 766.4,-2.4C769.5,-1.3 774.6,4.0 779.7,3.7C784.8,3.4 793.5,-3.1 797.0,-4.3C800.5,-5.6 798.0,-5.3 801.0,-3.9C804.0,-2.6 810.7,3.6 815.3,3.9C819.9,4.1 825.5,-1.3 828.5,-2.4C831.5,-3.5 830.1,-3.4 833.6,-2.8C837.1,-2.2 844.0,0.9 849.8,1.2C855.6,1.4 862.1,-1.1 868.2,-1.2C874.3,-1.4 881.1,0.2 886.5,0.2C891.9,0.1 895.6,-1.8 900.7,-1.4C905.8,-1.1 912.9,1.5 917.0,2.2C921.1,2.9 921.7,3.0 925.1,2.9C928.5,2.7 932.7,0.6 937.3,1.2C941.9,1.7 947.2,6.8 952.6,6.3C958.0,5.8 965.0,0.1 969.9,-1.8C974.8,-3.8 977.5,-4.0 982.1,-5.3C986.7,-6.7 993.6,-9.5 997.3,-10.0C1001.0,-10.6 1000.6,-10.4 1004.5,-8.5C1008.4,-6.7 1015.0,-1.9 1020.7,1.2C1026.5,4.3 1034.6,8.5 1039.0,10.0C1043.4,11.4 1043.5,11.0 1047.2,9.8C1050.9,8.6 1057.5,4.6 1061.4,2.9C1065.3,1.2 1066.9,1.1 1070.5,-0.4C1074.1,-2.0 1079.9,-5.5 1082.8,-6.5C1085.7,-7.5 1085.3,-7.0 1087.8,-6.3C1090.3,-5.6 1093.6,-3.3 1098.0,-2.4C1102.4,-1.5 1108.0,-1.7 1114.3,-0.8C1120.6,0.0 1129.3,2.5 1135.7,2.7C1142.1,2.8 1147.7,0.8 1152.9,0.2C1158.2,-0.5 1162.1,-1.3 1167.2,-1.2C1172.3,-1.2 1180.5,0.2 1183.5,0.6C1185.4,0.9 1183.5,0.2 1185.4,0.9C1187.3,1.5 1192.2,3.8 1194.9,4.5C1197.6,5.2 1199.2,5.1 1201.7,5.0C1204.2,4.9 1206.6,5.1 1209.8,3.9C1213.0,2.6 1218.0,-1.4 1220.7,-2.6C1223.4,-3.9 1222.7,-4.1 1226.1,-3.6C1229.5,-3.1 1235.6,-0.4 1241.0,0.5C1246.4,1.3 1252.8,1.5 1258.7,1.4C1264.6,1.2 1271.3,0.4 1276.3,-0.5C1281.3,-1.4 1285.7,-3.5 1288.5,-4.0C1291.3,-4.6 1291.0,-5.0 1293.3,-3.9C1295.6,-2.8 1299.5,1.0 1302.1,2.5C1304.7,3.9 1305.4,5.1 1308.8,4.8C1312.2,4.4 1318.3,1.5 1322.4,0.5C1326.5,-0.6 1329.0,-0.5 1333.3,-1.6C1337.6,-2.7 1343.9,-5.0 1348.2,-6.0C1352.5,-7.0 1355.4,-7.3 1359.0,-7.7C1362.6,-8.1 1367.0,-8.4 1369.9,-8.3C1372.9,-8.2 1373.8,-8.1 1376.7,-7.2C1379.6,-6.4 1382.5,-4.7 1387.5,-3.2C1392.5,-1.8 1400.8,0.5 1406.5,1.4C1412.2,2.3 1417.8,1.6 1421.4,2.1C1425.0,2.6 1425.5,3.3 1428.2,4.5C1430.9,5.6 1435.0,8.1 1437.7,9.0C1440.4,9.9 1442.2,9.6 1444.5,10.0C1446.8,10.4 1448.4,10.1 1451.3,11.3C1454.2,12.4 1458.7,15.1 1462.1,16.8C1465.5,18.4 1468.9,20.3 1471.6,21.2C1474.3,22.0 1476.1,21.9 1478.1,21.9C1480.1,21.8 1481.6,21.7 1483.6,20.8C1485.6,19.8 1488.0,18.2 1490.3,16.1C1492.5,13.9 1494.6,11.5 1497.1,7.9C1499.6,4.3 1501.9,-0.9 1505.3,-5.6C1508.7,-10.4 1513.2,-15.5 1517.5,-20.5C1521.8,-25.5 1527.2,-30.9 1531.0,-35.5C1534.8,-40.2 1538.0,-45.3 1540.5,-48.3C1543.0,-51.4 1544.2,-52.7 1546.0,-53.8C1547.8,-55.0 1549.6,-55.9 1551.4,-55.1C1553.2,-54.4 1555.0,-52.8 1556.8,-49.3C1558.6,-45.8 1560.4,-41.0 1562.2,-34.1C1564.0,-27.3 1565.9,-17.4 1567.7,-8.3C1569.5,0.7 1571.3,10.6 1573.1,20.1C1574.9,29.6 1576.9,40.4 1578.5,48.6C1580.1,56.7 1581.0,63.7 1582.6,69.0C1584.2,74.3 1586.3,78.8 1588.0,80.5C1589.7,82.2 1591.0,81.7 1592.7,79.1C1594.4,76.5 1596.3,71.5 1598.2,64.9C1600.1,58.2 1602.2,49.5 1604.3,39.1C1606.4,28.7 1608.9,13.2 1611.1,2.5C1613.2,-8.3 1615.1,-18.9 1617.2,-25.3C1619.3,-31.8 1621.9,-34.5 1623.9,-36.1C1625.9,-37.8 1627.6,-36.7 1629.4,-35.2C1631.2,-33.8 1632.4,-31.6 1634.8,-27.3C1637.2,-23.1 1641.2,-13.7 1643.6,-9.7C1646.0,-5.7 1647.2,-4.7 1649.0,-3.2C1650.8,-1.8 1651.5,-1.0 1654.5,-0.9C1657.5,-0.8 1663.5,-2.6 1666.7,-2.6C1669.9,-2.6 1669.3,-3.0 1673.4,-0.9C1677.5,1.2 1687.2,8.0 1691.1,10.0C1694.9,11.9 1694.5,11.1 1696.5,10.9C1698.5,10.6 1699.7,10.2 1703.3,8.6C1706.9,7.0 1713.5,2.7 1718.2,1.2C1723.0,-0.4 1727.3,0.6 1731.8,-0.6C1736.3,-1.9 1741.0,-4.4 1745.3,-6.3C1749.6,-8.3 1754.3,-11.4 1757.5,-12.4C1760.7,-13.5 1763.0,-12.7 1764.3,-12.7C1765.0,-12.8 1764.3,-13.6 1765.0,-12.7C1767.9,-11.8 1777.0,-9.3 1781.7,-7.2C1786.5,-5.1 1789.0,-2.8 1793.5,-0.2C1798.0,2.3 1804.6,6.6 1808.5,8.2C1812.4,9.8 1813.8,9.6 1816.9,9.4C1820.0,9.2 1822.2,8.4 1826.9,6.9C1831.6,5.4 1839.2,0.9 1845.3,0.3C1851.4,-0.3 1858.4,2.1 1863.7,3.2C1869.0,4.3 1874.0,6.4 1877.1,6.9C1880.2,7.4 1879.3,7.4 1882.1,6.2C1884.9,4.9 1889.6,1.2 1893.8,-0.5C1898.0,-2.3 1903.0,-4.3 1907.2,-4.4C1911.4,-4.6 1915.0,-2.3 1918.9,-1.5C1922.8,-0.8 1927.5,0.1 1930.6,0.2C1933.7,0.3 1934.2,0.0 1937.3,-1.0C1940.4,-2.1 1945.7,-5.0 1949.0,-6.0C1952.3,-7.0 1954.3,-6.4 1957.4,-6.9C1960.5,-7.4 1964.9,-8.8 1967.4,-8.9C1969.9,-9.1 1969.3,-9.5 1972.4,-7.7C1975.5,-5.9 1982.2,-0.1 1985.8,1.8C1989.4,3.6 1991.1,3.3 1994.2,3.5C1997.3,3.6 2000.0,3.4 2004.2,2.8C2008.4,2.2 2014.3,-0.3 2019.3,-0.2C2024.3,-0.2 2029.6,2.3 2034.3,3.2C2039.0,4.0 2043.8,4.2 2047.7,4.8C2051.6,5.3 2052.8,6.0 2057.8,6.5C2062.8,7.0 2072.8,7.8 2077.8,7.7C2082.8,7.5 2084.3,7.0 2087.9,5.7C2091.5,4.4 2095.6,1.9 2099.6,-0.2C2103.6,-2.3 2110.0,-5.8 2112.1,-6.9"/><path id="tr4" d="M304.1,-0.0C307.2,-0.1 317.8,-0.6 322.4,-0.4C327.0,-0.2 328.1,1.5 331.5,1.3C334.9,1.1 340.1,-1.0 342.7,-1.4C345.2,-1.8 344.4,-1.5 346.8,-1.0C349.2,-0.5 352.2,1.7 357.0,1.7C361.8,1.7 367.9,-0.9 375.3,-1.0C382.8,-1.1 392.6,1.3 401.7,1.3C410.8,1.3 423.4,-0.6 430.2,-0.8C437.0,-1.0 439.0,0.2 442.4,0.2C445.8,0.2 447.4,-0.8 450.5,-0.8C453.6,-0.8 457.3,0.2 460.7,0.2C464.1,0.2 466.1,-1.1 470.9,-1.0C475.6,-0.9 484.6,-0.2 489.2,0.6C493.8,1.4 495.9,3.3 498.3,3.7C500.7,4.1 501.0,4.3 503.4,3.1C505.8,1.9 509.2,-2.6 512.6,-3.4C516.0,-4.3 520.9,-2.3 523.8,-2.0C526.7,-1.7 526.8,-2.0 529.9,-1.4C533.0,-0.8 537.4,1.8 542.1,1.7C546.8,1.6 553.6,-1.5 558.3,-1.8C563.0,-2.1 562.7,-0.6 570.5,-0.0C578.3,0.6 596.6,1.9 605.1,1.7C613.6,1.5 615.3,-0.8 621.4,-1.0C627.5,-1.2 636.3,0.6 641.7,0.6C647.1,0.6 649.5,-1.6 653.9,-0.8C658.3,-0.1 665.1,4.1 668.2,5.1C671.3,6.1 670.3,6.7 672.3,5.1C674.3,3.5 677.9,-1.6 680.4,-4.4C682.9,-7.2 685.3,-10.9 687.5,-11.6C689.7,-12.4 690.9,-12.0 693.6,-8.9C696.3,-5.9 701.4,3.5 703.8,6.7C706.2,9.9 706.2,10.0 707.9,10.4C709.6,10.7 710.8,11.1 714.0,8.8C717.2,6.5 724.2,-1.0 727.2,-3.4C730.2,-5.8 730.3,-5.3 732.3,-5.5C734.3,-5.7 736.4,-5.7 739.4,-4.4C742.4,-3.1 746.0,1.8 750.2,2.1C754.4,2.4 759.0,-3.0 764.4,-2.8C769.8,-2.6 777.3,3.7 782.7,3.1C788.1,2.5 794.0,-5.1 797.0,-6.5C800.0,-7.9 798.6,-7.9 801.0,-5.5C803.4,-3.1 808.7,5.1 811.2,7.8C813.8,10.4 814.4,10.6 816.3,10.4C818.2,10.2 819.9,9.5 822.4,6.7C824.9,3.9 829.1,-4.4 831.5,-6.5C833.9,-8.6 833.9,-7.5 836.6,-6.1C839.3,-4.7 845.1,0.2 847.8,1.7C850.5,3.2 849.5,4.2 852.9,3.1C856.3,2.0 865.0,-3.8 868.2,-5.0C871.4,-6.2 869.5,-5.4 872.2,-4.0C874.9,-2.7 881.7,2.0 884.4,3.1C887.1,4.1 885.8,3.8 888.5,2.3C891.2,0.8 898.0,-4.6 900.7,-5.9C903.4,-7.2 902.1,-7.0 904.8,-5.5C907.5,-4.0 912.3,1.8 917.0,3.1C921.7,4.4 928.1,2.0 933.2,2.1C938.3,2.2 944.1,3.6 947.5,3.7C950.9,3.8 950.2,4.1 953.6,2.7C957.0,1.3 964.8,-3.6 967.8,-4.8C970.8,-6.0 968.8,-5.7 971.9,-4.4C975.0,-3.2 982.9,1.7 986.1,2.7C989.3,3.6 988.5,2.7 991.2,1.3C993.9,-0.1 998.8,-5.1 1002.4,-5.9C1006.0,-6.8 1008.5,-4.1 1012.6,-3.8C1016.7,-3.6 1022.7,-4.8 1026.8,-4.4C1030.9,-4.0 1032.6,-3.8 1037.0,-1.4C1041.4,1.0 1049.6,7.9 1053.3,9.8C1057.0,11.7 1055.0,11.6 1059.4,10.2C1063.8,8.8 1074.3,3.2 1079.7,1.3C1085.1,-0.6 1088.0,-0.1 1091.9,-1.0C1095.8,-1.9 1099.0,-4.2 1103.1,-4.0C1107.2,-3.8 1113.1,-0.2 1116.3,0.2C1119.5,0.6 1119.0,0.4 1122.4,-1.8C1125.8,-4.0 1133.1,-11.4 1136.7,-13.2C1140.3,-15.0 1141.8,-13.4 1143.8,-12.6C1145.8,-11.8 1146.0,-11.7 1148.9,-8.5C1151.8,-5.3 1157.7,3.1 1161.1,6.7C1164.5,10.3 1166.7,12.0 1169.2,12.9C1171.7,13.7 1172.2,14.3 1176.3,11.8C1180.4,9.3 1189.8,0.5 1193.6,-2.2C1197.4,-4.9 1195.6,-5.0 1199.0,-4.3C1202.4,-3.6 1209.8,0.8 1213.9,2.1C1218.0,3.3 1220.7,3.2 1223.4,3.2C1226.1,3.2 1226.6,3.7 1230.2,2.1C1233.8,0.5 1241.7,-5.0 1245.1,-6.3C1248.5,-7.6 1246.9,-7.5 1250.5,-5.6C1254.1,-3.8 1263.0,2.8 1266.8,4.8C1270.6,6.8 1269.8,7.3 1273.6,6.2C1277.4,5.1 1285.2,-0.3 1289.9,-1.9C1294.7,-3.5 1296.4,-2.9 1302.1,-3.6C1307.8,-4.3 1317.5,-4.8 1323.8,-6.0C1330.1,-7.2 1335.9,-10.0 1340.0,-11.0C1344.1,-12.0 1345.9,-12.1 1348.2,-12.0C1350.5,-11.9 1350.9,-11.8 1353.6,-10.6C1356.3,-9.4 1360.9,-6.6 1364.5,-4.9C1368.1,-3.2 1372.1,-1.8 1375.3,-0.2C1378.5,1.4 1380.0,2.2 1383.4,4.6C1386.8,7.0 1391.6,11.7 1395.7,14.1C1399.8,16.5 1404.3,18.1 1407.9,19.2C1411.5,20.3 1413.6,20.4 1417.4,20.6C1421.2,20.8 1427.8,20.7 1430.9,20.2C1434.1,19.7 1434.0,19.5 1436.3,17.4C1438.6,15.2 1441.1,12.5 1444.5,7.3C1447.9,2.1 1453.8,-9.2 1456.7,-13.8C1459.6,-18.4 1460.4,-19.2 1462.1,-20.5C1463.8,-21.9 1465.1,-22.0 1466.9,-21.9C1468.7,-21.8 1471.3,-20.6 1473.0,-19.9C1474.7,-19.2 1474.4,-19.2 1476.8,-17.6C1479.2,-16.1 1484.2,-12.1 1487.6,-10.6C1491.0,-9.1 1494.4,-9.7 1497.1,-8.8C1499.8,-7.9 1501.6,-7.0 1503.9,-5.4C1506.2,-3.8 1507.8,-2.4 1510.7,0.7C1513.6,3.7 1518.5,10.3 1521.5,12.9C1524.5,15.5 1526.7,16.8 1529.0,16.5C1531.3,16.2 1533.2,14.3 1535.1,11.1C1537.0,7.9 1538.0,5.5 1540.5,-2.7C1543.0,-10.9 1547.5,-29.8 1550.0,-38.0C1552.5,-46.3 1553.7,-49.1 1555.4,-52.2C1557.1,-55.3 1558.4,-57.2 1560.2,-56.6C1562.0,-56.0 1564.5,-53.0 1566.3,-48.8C1568.1,-44.6 1569.0,-40.9 1571.0,-31.2C1573.0,-21.5 1576.1,-4.7 1578.5,9.5C1580.9,23.7 1583.1,43.5 1585.3,54.2C1587.5,64.9 1589.5,69.5 1591.4,73.9C1593.3,78.3 1595.0,80.8 1596.8,80.7C1598.6,80.6 1600.3,77.8 1602.2,73.2C1604.1,68.6 1605.9,63.7 1608.3,52.9C1610.7,42.0 1614.2,18.9 1616.5,8.1C1618.8,-2.8 1620.0,-7.5 1621.9,-12.2C1623.8,-16.9 1626.2,-19.0 1628.0,-20.1C1629.8,-21.2 1630.3,-20.7 1632.8,-18.7C1635.3,-16.7 1640.4,-9.8 1642.9,-7.9C1645.4,-6.0 1645.9,-6.6 1647.7,-7.5C1649.5,-8.5 1651.2,-9.5 1653.8,-13.6C1656.4,-17.7 1660.7,-28.1 1663.3,-31.9C1665.9,-35.7 1667.6,-36.1 1669.4,-36.4C1671.2,-36.7 1672.3,-36.0 1674.1,-33.9C1675.9,-31.8 1677.7,-29.6 1680.2,-23.8C1682.7,-18.0 1686.6,-5.3 1689.0,0.7C1691.4,6.7 1692.6,9.3 1694.5,12.2C1696.4,15.1 1698.9,16.9 1700.6,17.9C1702.3,18.9 1702.1,19.4 1704.6,18.3C1707.1,17.2 1712.8,13.0 1715.5,11.5C1718.2,10.0 1718.4,9.8 1720.9,9.1C1723.4,8.3 1727.8,7.7 1730.4,7.0C1733.0,6.3 1733.8,6.7 1736.5,4.7C1739.2,2.7 1743.4,-1.3 1746.7,-4.8C1750.0,-8.3 1753.7,-13.8 1756.2,-16.3C1758.7,-18.9 1760.1,-19.5 1761.6,-20.1C1763.1,-20.7 1763.6,-20.5 1765.0,-19.7C1766.4,-18.9 1766.4,-19.6 1770.0,-15.5C1773.6,-11.4 1780.7,0.2 1786.8,4.9C1792.9,9.6 1800.9,11.3 1806.8,12.5C1812.7,13.7 1818.0,12.6 1821.9,12.0C1825.8,11.4 1825.8,12.2 1830.3,9.1C1834.8,6.0 1844.2,-3.5 1848.7,-6.4C1853.2,-9.3 1853.9,-8.5 1857.0,-8.4C1860.1,-8.3 1862.9,-8.5 1867.1,-5.9C1871.3,-3.3 1877.6,4.9 1882.1,7.4C1886.5,9.9 1887.7,10.8 1893.8,9.1C1899.9,7.3 1911.1,0.8 1918.9,-3.1C1926.7,-7.0 1934.3,-13.7 1940.7,-14.3C1947.1,-14.9 1951.6,-10.0 1957.4,-6.8C1963.2,-3.7 1971.6,2.6 1975.8,4.6C1980.0,6.5 1977.8,6.0 1982.5,4.9C1987.2,3.7 1998.9,-1.1 2004.2,-2.3C2009.5,-3.5 2009.8,-3.0 2014.3,-2.1C2018.8,-1.2 2024.3,0.9 2031.0,2.9C2037.7,4.8 2047.7,9.4 2054.4,9.6C2061.1,9.8 2065.8,6.2 2071.1,4.1C2076.4,2.0 2080.9,-0.9 2086.2,-3.1C2091.5,-5.3 2098.6,-8.5 2102.9,-9.3C2107.2,-10.1 2110.6,-8.3 2112.1,-8.1"/><path id="tr5" d="M305.1,2.7C306.3,2.1 309.7,-0.3 312.2,-1.0C314.7,-1.7 317.2,-2.1 320.3,-1.6C323.4,-1.2 325.8,1.7 330.5,1.7C335.2,1.7 342.7,-1.6 348.8,-1.6C354.9,-1.6 360.8,1.7 367.1,1.5C373.4,1.3 380.9,-2.8 386.5,-2.6C392.1,-2.4 396.3,2.4 400.7,2.5C405.1,2.6 405.9,-2.1 412.9,-2.0C419.8,-1.9 433.8,3.3 442.4,3.1C451.0,2.9 458.7,-2.6 464.8,-3.0C470.9,-3.4 472.2,0.2 479.0,0.5C485.8,0.8 498.7,-1.8 505.5,-1.4C512.3,-1.0 515.3,2.6 519.7,2.7C524.1,2.9 527.5,0.4 531.9,-0.5C536.3,-1.4 541.7,-2.9 546.1,-2.6C550.5,-2.3 554.6,0.9 558.3,1.1C562.0,1.3 564.4,-1.8 568.5,-1.4C572.6,-1.0 578.0,4.0 582.7,3.7C587.5,3.4 591.6,-3.4 597.0,-3.4C602.4,-3.4 610.0,3.1 615.3,3.5C620.5,3.9 624.4,-1.1 628.5,-1.0C632.6,-0.9 636.8,3.6 639.7,4.1C642.6,4.6 643.2,4.1 645.8,2.1C648.3,0.1 652.6,-6.5 655.0,-8.1C657.4,-9.7 656.8,-9.6 660.0,-7.7C663.2,-5.8 670.7,0.4 674.3,3.1C677.9,5.8 679.4,7.7 681.4,8.6C683.4,9.6 684.0,11.1 686.5,8.8C689.0,6.5 693.8,-3.6 696.3,-5.0C698.8,-6.4 700.0,-2.3 701.7,0.1C703.5,2.5 705.1,8.5 706.8,9.6C708.5,10.7 710.0,8.8 711.9,6.6C713.8,4.4 716.0,-1.2 718.0,-3.4C720.0,-5.6 721.2,-6.2 724.1,-6.6C727.0,-7.0 732.2,-6.4 735.3,-5.6C738.3,-4.8 740.1,-3.0 742.4,-2.0C744.7,-1.0 744.9,0.5 749.2,0.1C753.6,-0.3 764.4,-4.3 768.5,-4.6C772.6,-5.0 771.7,-3.6 773.6,-2.0C775.5,-0.4 777.8,3.4 779.7,5.1C781.6,6.8 782.3,9.1 784.8,8.2C787.3,7.3 792.5,1.1 794.9,-0.5C797.3,-2.1 796.5,-2.7 799.0,-1.4C801.5,-0.0 807.5,5.8 810.2,7.6C812.9,9.4 813.4,9.5 815.3,9.2C817.2,8.9 818.9,8.5 821.4,5.6C823.9,2.7 828.1,-5.6 830.5,-8.1C832.9,-10.7 833.1,-10.6 835.6,-9.7C838.1,-8.9 842.1,-4.3 845.8,-3.0C849.5,-1.7 855.3,-2.4 858.0,-2.0C860.7,-1.6 859.7,-0.1 862.1,-0.5C864.5,-0.9 869.7,-4.6 872.2,-4.6C874.7,-4.6 875.6,-2.4 877.3,-0.5C879.0,1.4 880.7,5.3 882.4,6.6C884.1,7.9 885.0,8.6 887.5,7.2C890.0,5.8 895.2,-0.5 897.6,-2.0C900.0,-3.5 899.2,-2.7 901.7,-1.6C904.2,-0.5 910.0,3.8 912.9,4.5C915.8,5.2 916.5,4.1 919.0,2.7C921.5,1.3 924.8,-3.7 928.2,-4.0C931.6,-4.3 936.8,0.1 939.3,1.1C941.8,2.1 940.8,0.9 943.4,2.1C946.0,3.3 951.9,7.7 954.6,8.2C957.3,8.7 958.0,7.1 959.7,5.1C961.4,3.1 962.9,-1.5 964.8,-4.0C966.7,-6.5 969.0,-9.2 970.9,-10.1C972.8,-11.0 973.8,-10.6 976.0,-9.5C978.2,-8.4 981.1,-5.1 984.1,-3.4C987.1,-1.7 990.9,0.1 994.3,0.7C997.7,1.3 1001.5,-0.2 1004.5,0.1C1007.5,0.4 1009.7,2.4 1012.6,2.7C1015.5,3.0 1018.5,1.5 1021.7,1.7C1024.9,1.9 1028.5,4.1 1031.9,4.1C1035.3,4.1 1038.5,1.0 1042.1,1.7C1045.7,2.5 1050.6,7.5 1053.3,8.6C1056.0,9.7 1055.7,10.1 1058.4,8.2C1061.1,6.3 1066.3,-0.4 1069.5,-3.0C1072.7,-5.6 1074.3,-6.7 1077.7,-7.1C1081.1,-7.5 1087.0,-5.7 1089.9,-5.6C1092.8,-5.5 1093.3,-5.8 1095.0,-6.6C1096.7,-7.4 1098.4,-9.9 1100.1,-10.5C1101.8,-11.1 1102.6,-12.4 1105.1,-10.5C1107.6,-8.6 1112.1,-1.1 1115.3,1.1C1118.5,3.3 1121.1,1.5 1124.5,2.7C1127.9,4.0 1132.0,8.5 1135.7,8.6C1139.4,8.7 1142.9,3.8 1146.8,3.1C1150.7,2.4 1154.1,4.5 1159.0,4.5C1163.9,4.5 1170.8,4.8 1176.3,3.1C1181.8,1.5 1187.7,-2.9 1192.2,-5.4C1196.7,-7.9 1199.7,-10.4 1203.1,-11.8C1206.5,-13.2 1210.1,-13.9 1212.6,-13.6C1215.1,-13.3 1215.5,-12.8 1218.0,-10.2C1220.5,-7.6 1224.1,-1.9 1227.5,2.0C1230.9,5.9 1235.6,10.7 1238.3,12.9C1241.0,15.1 1241.9,15.2 1243.7,15.3C1245.5,15.4 1246.7,14.9 1249.2,13.6C1251.7,12.3 1255.3,8.9 1258.7,7.5C1262.1,6.1 1265.9,7.9 1269.5,5.4C1273.1,2.9 1277.8,-5.2 1280.4,-7.7C1283.0,-10.3 1282.5,-10.2 1285.1,-9.9C1287.7,-9.6 1293.2,-6.2 1296.0,-5.8C1298.8,-5.4 1299.5,-6.8 1302.1,-7.7C1304.7,-8.6 1309.1,-10.8 1311.6,-11.3C1314.1,-11.7 1314.4,-11.4 1317.0,-10.4C1319.6,-9.3 1323.9,-6.2 1327.2,-5.0C1330.5,-3.8 1333.3,-5.4 1336.7,-3.1C1340.1,-0.8 1344.7,6.2 1347.5,8.8C1350.3,11.4 1351.0,11.2 1353.6,12.5C1356.2,13.8 1360.7,16.1 1363.1,16.7C1365.5,17.3 1365.3,17.7 1367.8,16.3C1370.3,14.9 1374.9,10.1 1378.0,8.1C1381.1,6.1 1382.8,4.7 1386.2,4.3C1389.6,3.8 1395.2,5.3 1398.4,5.4C1401.6,5.5 1402.4,4.8 1405.1,5.0C1407.8,5.2 1411.2,6.6 1414.6,6.5C1418.0,6.4 1422.1,4.3 1425.5,4.5C1428.9,4.7 1432.5,7.9 1435.0,7.7C1437.5,7.5 1437.8,8.3 1440.4,3.1C1443.0,-2.1 1447.9,-17.1 1450.6,-23.7C1453.3,-30.3 1454.1,-32.0 1456.7,-36.6C1459.3,-41.2 1463.7,-48.5 1466.2,-51.5C1468.7,-54.5 1470.1,-54.7 1471.6,-54.9C1473.1,-55.1 1472.8,-55.1 1475.4,-52.9C1478.0,-50.6 1484.2,-45.3 1487.0,-41.4C1489.8,-37.4 1490.5,-34.9 1492.4,-29.2C1494.3,-23.6 1496.3,-17.2 1498.5,-7.5C1500.7,2.2 1503.1,18.8 1505.3,29.2C1507.5,39.6 1509.4,48.0 1511.4,54.9C1513.4,61.8 1515.6,66.5 1517.5,70.5C1519.4,74.5 1521.1,77.0 1522.9,78.7C1524.7,80.4 1526.6,80.7 1528.3,80.7C1530.0,80.7 1531.3,81.0 1533.1,78.7C1534.9,76.4 1537.0,74.0 1539.2,67.1C1541.4,60.2 1543.6,47.9 1546.0,37.3C1548.4,26.7 1551.3,11.5 1553.4,3.4C1555.5,-4.7 1556.9,-7.8 1558.8,-11.5C1560.7,-15.2 1562.4,-16.9 1564.9,-19.0C1567.4,-21.1 1570.5,-21.1 1573.8,-24.0C1577.1,-26.9 1581.7,-33.7 1584.6,-36.4C1587.5,-39.1 1588.8,-39.1 1591.4,-40.3C1594.0,-41.5 1597.8,-43.2 1600.2,-43.4C1602.6,-43.6 1603.0,-43.8 1605.6,-41.6C1608.2,-39.5 1613.2,-34.0 1615.8,-30.5C1618.4,-27.0 1618.7,-26.6 1621.2,-20.4C1623.7,-14.2 1627.7,-0.6 1630.7,6.8C1633.8,14.1 1636.8,19.3 1639.5,23.7C1642.2,28.1 1644.8,31.0 1647.0,33.0C1649.2,35.0 1650.6,35.9 1652.4,35.9C1654.2,35.9 1655.3,36.7 1657.8,33.2C1660.3,29.7 1664.1,21.0 1667.3,14.9C1670.5,8.8 1673.4,4.3 1676.8,-3.4C1680.2,-11.1 1685.0,-25.0 1687.7,-31.2C1690.4,-37.4 1691.3,-39.0 1693.1,-40.7C1694.9,-42.4 1696.6,-43.0 1698.5,-41.6C1700.4,-40.3 1702.0,-36.9 1704.6,-32.6C1707.2,-28.3 1711.6,-20.2 1714.1,-15.6C1716.6,-11.0 1717.3,-10.3 1719.6,-4.8C1721.9,0.7 1725.2,10.8 1727.7,17.6C1730.2,24.4 1732.5,31.7 1734.5,35.9C1736.5,40.1 1738.2,41.6 1739.9,43.0C1741.6,44.4 1743.0,44.6 1744.7,44.1C1746.4,43.6 1747.5,43.8 1750.1,40.0C1752.7,36.2 1757.0,26.5 1760.3,21.0C1763.6,15.5 1766.4,12.3 1770.0,6.7C1773.6,1.1 1778.8,-8.4 1781.7,-12.5C1784.6,-16.6 1784.2,-15.8 1787.6,-17.6C1790.9,-19.4 1798.4,-22.6 1801.8,-23.4C1805.2,-24.1 1804.9,-24.2 1807.7,-22.1C1810.5,-20.0 1814.5,-14.4 1818.5,-10.9C1822.5,-7.4 1827.7,-4.5 1831.9,-1.3C1836.1,1.9 1840.2,6.6 1843.6,8.4C1846.9,10.1 1848.7,8.4 1852.0,9.2C1855.3,10.0 1859.8,13.4 1863.7,13.1C1867.6,12.8 1872.1,9.0 1875.4,7.5C1878.8,6.0 1881.3,5.7 1883.8,4.2C1886.3,2.7 1887.8,0.3 1890.5,-1.7C1893.2,-3.7 1896.4,-4.9 1899.7,-8.0C1903.0,-11.1 1907.8,-18.4 1910.6,-20.4C1913.4,-22.4 1913.6,-21.1 1916.4,-20.1C1919.2,-19.1 1923.1,-17.8 1927.3,-14.2C1931.5,-10.6 1938.2,-1.5 1941.5,1.7C1944.8,4.9 1943.6,3.5 1947.4,5.0C1951.2,6.5 1959.8,9.8 1964.1,10.9C1968.4,12.0 1969.4,11.1 1973.3,11.7C1977.2,12.3 1984.0,14.5 1987.5,14.7C1991.0,14.9 1990.6,15.3 1994.2,13.1C1997.8,10.9 2004.4,4.7 2009.3,1.7C2014.2,-1.3 2018.5,-3.4 2023.5,-5.0C2028.5,-6.6 2034.8,-8.7 2039.4,-7.9C2044.0,-7.1 2048.3,-1.6 2051.1,0.0C2053.9,1.6 2053.7,1.3 2056.1,1.7C2058.5,2.1 2062.9,2.5 2065.3,2.2C2067.7,1.9 2067.7,2.5 2070.3,0.0C2073.0,-2.5 2078.3,-9.7 2081.2,-12.5C2084.1,-15.3 2085.1,-15.7 2087.9,-16.7C2090.7,-17.7 2094.8,-18.6 2097.9,-18.7C2101.0,-18.9 2103.9,-18.8 2106.3,-17.6C2108.7,-16.4 2111.1,-12.7 2112.1,-11.7"/><path id="tr6" d="M304.7,-7.7 306.8,-8.7 312.2,-1.3 317.0,-2.0 323.1,-9.1 328.5,-5.4 333.2,-2.6 338.7,-7.7 343.4,-3.7 348.8,4.9 354.3,-0.3 359.0,-10.0 363.7,-10.7 380.0,-0.5 384.8,1.4 390.2,4.8 395.6,7.6 405.1,-11.1 410.5,-8.1 420.7,0.8 426.1,1.8 430.9,-1.6 441.7,9.0 451.9,-7.7 457.3,-6.4 467.5,6.5 472.3,5.2 477.7,-1.6 483.1,-0.3 487.8,4.1 494.0,1.1 503.4,-1.6 508.9,-8.4 514.3,-6.0 519.0,6.5 524.5,8.1 529.2,-2.3 534.6,-6.8 540.1,-2.3 550.2,13.3 555.7,5.8 559.7,-10.8 565.2,-14.5 576.0,15.3 580.8,9.2 586.2,-9.1 591.6,-17.2 596.1,-4.3 601.5,11.9 607.0,5.8 611.7,-4.6 617.1,-0.9 622.6,2.7 627.3,-10.0 632.7,-16.3 637.5,-2.3 642.9,5.8 648.3,0.0 653.7,-4.1 659.2,-6.0 663.9,-5.0 669.3,1.8 674.1,0.8 678.8,-4.1 684.9,-1.3 689.7,-3.7 694.4,-11.5 699.9,-6.0 704.6,7.6 710.0,9.9 715.5,6.2 720.2,8.8 725.6,-0.3 731.1,-12.5 736.5,-3.7 741.2,8.8 746.0,1.8 751.4,-5.0 756.8,10.6 762.0,21.2 767.0,9.9 771.7,-7.7 777.2,-6.8 782.6,6.2 788.0,6.5 792.8,-2.3 797.5,-0.3 802.9,9.6 808.4,11.5 813.1,6.8 819.2,-1.9 824.0,-13.1 829.0,-17.6 834.1,-7.7 839.6,7.9 845.0,17.6 849.7,18.7 854.5,6.5 859.9,-9.5 865.3,-9.5 870.1,2.9 875.5,5.8 880.2,-4.1 886.1,-6.4 890.9,6.2 896.3,10.9 901.0,0.0 906.4,-5.0 911.9,1.8 916.6,1.8 922.0,-0.5 932.2,16.0 937.6,6.5 942.4,-10.4 947.8,-12.9 953.2,1.8 958.0,7.2 963.4,-2.3 968.8,-3.7 973.6,4.5 978.3,2.5 983.8,-3.2 989.2,1.8 994.6,4.8 999.4,-3.7 1004.8,-13.8 1010.2,-9.8 1015.0,5.2 1019.7,9.0 1025.1,-3.7 1030.6,-8.7 1036.0,4.5 1040.7,15.3 1046.1,8.6 1050.9,-2.3 1056.3,-8.1 1067.2,-3.7 1071.9,-2.3 1082.1,8.1 1087.5,4.9 1092.3,-4.1 1097.7,-11.4 1103.1,-7.7 1107.9,2.2 1113.3,0.7 1118.0,-4.6 1123.5,7.2 1128.9,14.9 1133.6,-0.3 1139.1,-6.8 1144.2,0.8 1149.2,-1.2 1154.6,-9.8 1159.7,-14.1 1164.8,-6.0 1169.6,11.7 1175.4,16.8 1180.2,0.5 1185.6,-11.0 1190.3,-8.3 1195.8,-3.6 1201.2,1.9 1205.9,5.9 1211.4,-1.3 1216.8,-2.9 1221.5,5.3 1227.0,-1.5 1231.7,-13.7 1241.9,-7.0 1247.3,-12.8 1252.7,-7.0 1258.2,2.5 1262.9,-3.8 1268.3,-5.6 1273.1,8.0 1278.5,14.7 1288.7,5.3 1298.8,-5.2 1304.3,-6.0 1309.7,-10.6 1314.9,-11.7 1319.2,-0.8 1324.9,6.6 1330.0,1.9 1335.2,-1.3 1340.9,5.3 1345.6,9.3 1350.4,2.5 1355.8,-6.5 1361.2,-6.0 1366.7,-1.5 1371.4,-3.2 1376.8,-10.3 1381.6,-9.0 1387.0,-0.2 1392.4,2.5 1397.2,1.6 1402.6,6.6 1407.4,13.4 1412.8,18.4 1418.2,16.8 1423.6,13.1 1433.1,13.0 1437.9,3.2 1443.7,-9.0 1449.1,-3.6 1454.1,12.0 1459.6,13.8 1464.3,11.4 1469.5,15.6 1474.9,6.8 1479.7,-3.4 1485.1,0.4 1489.8,-6.5 1495.3,-27.8 1500.7,-32.5 1505.4,-25.5 1510.9,-24.0 1515.6,-27.8 1521.0,-33.2 1526.5,-36.2 1533.2,-35.5 1541.4,-34.6 1546.8,-23.1 1552.2,-10.2 1557.0,-5.4 1563.1,0.7 1567.8,17.6 1572.6,44.8 1578.0,63.1 1583.4,71.9 1588.6,80.7 1593.6,79.3 1599.0,59.7 1603.8,39.3 1608.5,25.1 1614.6,11.5 1624.1,-23.1 1629.5,-27.5 1635.0,-26.9 1639.7,-31.9 1645.8,-35.9 1650.6,-37.3 1656.0,-41.1 1660.7,-40.7 1670.9,-27.8 1681.1,-8.1 1691.9,-7.5 1697.4,9.5 1702.1,37.3 1707.1,46.8 1712.3,30.5 1717.7,14.9 1723.8,12.9 1728.5,12.2 1732.6,2.7 1738.0,-12.9 1743.5,-21.4 1748.9,-14.9 1753.6,0.3 1758.8,-0.3 1763.6,-12.3 1769.7,-16.3 1774.4,-15.7 1779.8,-17.7 1784.6,-15.5 1790.7,-9.2 1796.1,1.0 1804.9,30.2 1810.4,31.3 1815.8,25.0 1820.5,25.4 1826.0,29.8 1831.4,32.2 1836.8,26.1 1846.3,-9.2 1851.7,-16.6 1861.9,-1.0 1867.3,-2.0 1872.7,-4.4 1877.5,-1.0 1882.9,10.5 1888.1,17.3 1898.5,-1.4 1903.3,-0.7 1908.7,-5.4 1913.4,-21.4 1919.3,-29.5 1925.0,-13.2 1929.3,-2.0 1934.5,-7.8 1939.9,-10.5 1944.6,-9.8 1950.1,-21.8 1955.5,-23.4 1960.2,-6.4 1965.7,5.1 1971.1,2.1 1975.8,-5.1 1980.6,-9.2 1986.0,-8.2 1991.4,-11.5 1996.7,-11.6 2006.6,16.6 2011.3,14.2 2016.9,10.6 2022.5,17.0 2027.6,23.0 2032.8,12.7 2037.9,1.1 2043.5,8.0 2048.4,17.9 2053.8,6.7 2058.1,-5.3 2063.7,-8.5 2068.8,-9.6 2074.0,-4.0 2079.1,11.3 2084.3,15.6 2089.5,-4.9 2094.8,-21.6 2099.8,-12.8 2104.7,2.0 2110.9,2.4 2112.2,0.3"/><path id="tr7" d="M304.1,5.5C306.6,6.2 313.2,9.6 319.3,9.4C325.4,9.3 332.7,6.0 340.7,4.5C348.7,3.1 358.6,2.2 367.1,0.8C375.6,-0.6 384.7,-3.9 391.5,-3.8C398.3,-3.7 403.4,0.3 407.8,1.3C412.2,2.4 414.6,1.9 418.0,2.5C421.4,3.2 422.4,6.9 428.2,5.3C434.0,3.8 446.2,-4.6 452.6,-6.9C459.0,-9.1 461.4,-8.8 466.8,-8.3C472.2,-7.8 479.0,-4.0 485.1,-3.8C491.2,-3.5 497.6,-6.6 503.4,-6.9C509.2,-7.1 513.9,-7.2 519.7,-5.3C525.5,-3.3 532.9,3.4 538.0,4.9C543.1,6.5 544.8,3.7 550.2,3.9C555.6,4.2 564.0,6.4 570.5,6.5C577.0,6.6 583.5,5.1 588.9,4.5C594.3,3.9 598.9,5.9 603.1,2.9C607.3,-0.1 611.6,-10.2 614.3,-13.4C616.9,-16.6 617.1,-17.1 619.0,-16.4C620.9,-15.7 622.7,-13.2 625.5,-9.3C628.3,-5.4 632.4,3.6 635.6,6.9C638.8,10.2 640.0,9.9 644.8,10.6C649.5,11.4 657.1,13.1 664.1,11.4C671.1,9.8 680.2,4.7 686.5,0.8C692.8,-3.1 697.3,-10.4 701.7,-12.0C706.1,-13.6 707.0,-9.7 712.9,-8.9C718.8,-8.0 731.5,-9.1 737.3,-6.9C743.1,-4.7 744.8,1.8 747.5,4.4C750.2,7.0 751.8,8.2 753.6,8.6C755.4,9.0 756.6,8.1 758.3,6.8C760.0,5.5 761.9,2.4 763.7,0.7C765.5,-0.9 767.5,-2.7 769.2,-3.1C770.9,-3.5 772.1,-2.7 773.9,-1.8C775.7,-0.9 778.3,1.5 780.0,2.3C781.7,3.2 782.6,3.6 784.1,3.4C785.6,3.2 787.1,2.1 788.8,1.0C790.5,-0.1 792.5,-2.3 794.3,-3.1C796.1,-3.8 797.1,-5.2 799.7,-3.6C802.3,-1.9 807.2,4.8 809.8,6.8C812.4,8.8 813.4,8.9 815.3,8.4C817.2,8.0 818.9,6.2 821.4,4.1C823.9,2.0 827.7,-2.4 830.2,-4.1C832.7,-5.8 834.4,-6.1 836.3,-6.1C838.2,-6.1 839.9,-5.1 841.7,-4.1C843.5,-3.1 845.5,-0.9 847.1,0.0C848.7,0.9 849.6,1.5 851.2,1.4C852.8,1.3 854.7,0.2 856.6,-0.7C858.5,-1.5 861.0,-3.1 862.7,-3.6C864.4,-4.1 864.3,-4.7 866.8,-3.6C869.3,-2.5 874.4,1.6 877.7,3.0C881.0,4.4 883.2,4.1 886.5,4.8C889.8,5.6 893.7,7.8 897.3,7.5C900.9,7.2 905.5,3.9 908.2,3.1C910.9,2.3 911.8,3.2 913.6,2.7C915.4,2.3 916.5,3.4 919.0,0.4C921.5,-2.5 926.0,-11.2 928.5,-14.9C931.0,-18.5 932.3,-20.2 934.0,-21.4C935.7,-22.5 936.1,-23.4 938.7,-21.7C941.3,-19.9 946.8,-13.0 949.5,-10.8C952.2,-8.6 953.2,-8.5 955.0,-8.5C956.8,-8.4 958.7,-10.2 960.4,-10.4C962.1,-10.6 963.5,-10.8 965.1,-9.8C966.7,-8.7 967.9,-7.0 969.9,-4.1C971.9,-1.2 974.8,3.7 977.4,7.5C980.0,11.4 983.2,16.2 985.5,19.0C987.8,21.8 989.2,23.6 990.9,24.4C992.6,25.3 994.0,25.0 995.7,24.0C997.4,23.0 999.3,19.8 1001.1,18.3C1002.9,16.9 1003.9,15.3 1006.5,15.3C1009.1,15.4 1014.1,18.5 1016.7,18.6C1019.3,18.8 1019.4,18.2 1022.1,16.3C1024.8,14.5 1029.7,9.9 1033.0,7.5C1036.3,5.1 1039.8,3.8 1042.2,1.9C1044.6,0.1 1045.0,0.4 1047.6,-3.5C1050.2,-7.3 1055.1,-17.1 1057.8,-21.2C1060.5,-25.3 1062.1,-27.1 1063.9,-28.2C1065.7,-29.3 1067.1,-28.7 1068.7,-27.7C1070.3,-26.7 1071.7,-24.5 1073.4,-22.3C1075.1,-20.1 1077.0,-16.4 1078.8,-14.4C1080.6,-12.3 1082.5,-10.6 1084.3,-9.9C1086.1,-9.1 1087.9,-9.6 1089.7,-9.9C1091.5,-10.2 1093.4,-11.5 1095.1,-11.7C1096.8,-11.8 1098.1,-11.7 1099.8,-10.7C1101.5,-9.7 1103.4,-8.4 1105.3,-5.6C1107.2,-2.8 1109.0,-0.2 1111.4,6.0C1113.8,12.2 1117.2,25.2 1119.5,31.7C1121.8,38.3 1123.1,42.4 1124.9,45.3C1126.7,48.2 1128.6,49.1 1130.4,49.1C1132.2,49.1 1134.0,47.5 1135.8,45.3C1137.6,43.1 1139.4,40.1 1141.2,35.8C1143.0,31.5 1144.3,28.1 1146.6,19.5C1148.9,10.9 1152.3,-4.1 1154.8,-15.7C1157.3,-27.2 1159.7,-40.9 1161.6,-49.7C1163.5,-58.5 1164.6,-63.4 1166.3,-68.6C1168.0,-73.7 1169.9,-78.6 1171.7,-80.6C1173.5,-82.6 1175.4,-82.3 1177.2,-80.6C1179.0,-78.8 1180.8,-75.4 1182.6,-70.0C1184.4,-64.6 1185.8,-58.7 1188.0,-48.3C1190.2,-37.9 1193.1,-21.1 1195.5,-7.6C1197.9,6.0 1200.0,23.2 1202.3,33.1C1204.5,43.1 1206.8,47.2 1209.0,52.1C1211.2,57.1 1213.8,60.6 1215.8,62.9C1217.8,65.2 1219.0,66.5 1221.2,65.9C1223.4,65.4 1226.2,63.6 1228.7,59.5C1231.2,55.4 1233.4,49.9 1236.2,41.2C1239.0,32.5 1242.8,17.9 1245.7,7.3C1248.6,-3.3 1251.3,-14.9 1253.8,-22.5C1256.3,-30.0 1258.7,-34.4 1260.6,-38.1C1262.5,-41.7 1263.7,-43.1 1265.3,-44.5C1266.9,-45.8 1267.9,-47.0 1270.1,-46.3C1272.2,-45.6 1275.5,-43.7 1278.2,-40.4C1280.9,-37.1 1282.7,-34.8 1286.3,-26.6C1289.9,-18.4 1296.5,0.8 1299.9,8.7C1303.3,16.6 1304.7,18.2 1306.7,20.9C1308.7,23.6 1310.3,24.2 1312.1,24.9C1313.9,25.6 1314.2,25.8 1317.5,25.2C1320.8,24.6 1327.6,24.1 1331.8,21.2C1336.0,18.4 1339.8,11.2 1342.6,8.0C1345.4,4.9 1345.6,4.7 1348.9,2.2C1352.2,-0.3 1358.6,-4.9 1362.5,-7.0C1366.4,-9.0 1368.9,-7.3 1372.4,-10.1C1375.9,-12.8 1379.7,-20.5 1383.3,-23.6C1386.9,-26.7 1390.8,-28.8 1394.1,-28.7C1397.4,-28.5 1399.9,-26.1 1403.2,-22.7C1406.5,-19.3 1409.5,-13.7 1414.0,-8.2C1418.5,-2.6 1426.1,6.7 1430.3,10.7C1434.5,14.7 1433.6,14.3 1439.3,15.8C1445.0,17.3 1458.1,19.7 1464.7,19.8C1471.3,19.9 1473.7,18.8 1479.1,16.5C1484.5,14.3 1492.4,8.1 1497.2,6.2C1502.0,4.3 1503.9,7.0 1508.1,5.0C1512.3,3.1 1518.0,-3.0 1522.5,-5.5C1527.0,-8.0 1529.8,-7.2 1535.2,-10.1C1540.6,-12.9 1550.6,-20.4 1555.1,-22.7C1559.6,-24.9 1559.0,-24.2 1562.3,-23.6C1565.6,-23.0 1570.5,-22.2 1575.0,-19.1C1579.5,-15.9 1585.5,-7.4 1589.4,-4.6C1593.3,-1.7 1595.9,-2.7 1598.5,-1.9C1601.1,-1.0 1600.9,-1.8 1604.8,0.4C1608.7,2.7 1615.5,9.1 1622.0,11.6C1628.5,14.1 1638.0,15.2 1643.7,15.3C1649.4,15.5 1652.4,13.2 1656.3,12.5C1660.2,11.8 1662.1,13.8 1667.2,11.1C1672.3,8.4 1682.7,-0.9 1687.1,-3.7C1691.5,-6.4 1690.4,-5.8 1693.4,-5.5C1696.4,-5.2 1700.9,-2.4 1705.2,-1.9C1709.5,-1.3 1714.6,-1.3 1719.5,-2.3C1724.4,-3.2 1730.0,-6.9 1734.7,-7.6C1739.5,-8.3 1744.5,-6.4 1748.0,-6.6C1751.5,-6.7 1752.3,-7.5 1755.6,-8.5C1758.9,-9.4 1764.6,-11.8 1767.9,-12.3C1771.2,-12.7 1771.9,-13.0 1775.5,-11.2C1779.1,-9.3 1785.3,-4.5 1789.7,-1.3C1794.1,2.0 1798.9,6.6 1802.1,8.2C1805.3,9.8 1806.0,8.7 1808.7,8.2C1811.4,7.7 1813.5,4.7 1818.2,5.3C1823.0,6.0 1832.9,11.2 1837.2,12.0C1841.5,12.8 1840.1,13.3 1843.9,10.1C1847.7,7.0 1855.9,-3.6 1860.0,-7.0C1864.1,-10.4 1866.0,-10.2 1868.5,-10.4C1871.0,-10.5 1870.3,-11.0 1875.2,-8.0C1880.1,-4.9 1891.7,5.3 1898.0,7.8C1904.3,10.4 1907.8,8.9 1913.2,7.2C1918.6,5.5 1925.0,-0.2 1930.2,-2.3C1935.4,-4.4 1940.2,-5.3 1944.5,-5.5C1948.8,-5.7 1951.2,-3.3 1955.9,-3.6C1960.7,-3.8 1966.5,-7.1 1973.0,-7.0C1979.5,-6.8 1988.0,-4.5 1994.8,-2.8C2001.6,-1.0 2008.1,2.2 2013.8,3.4C2019.5,4.6 2023.3,5.0 2029.0,4.4C2034.7,3.9 2042.3,0.6 2048.0,0.2C2053.7,-0.2 2057.7,1.4 2063.1,2.1C2068.5,2.8 2074.5,4.4 2080.2,4.4C2085.9,4.4 2092.1,2.8 2097.3,2.1C2102.5,1.4 2109.2,0.5 2111.6,0.2"/></defs>
<rect x="304.5" y="129.5" width="1807.9" height="1429.0" fill="none" stroke="#262626" stroke-width="2.2"/><path d="M458.9 1558.5V1539.5M458.9 129.5V148.5M665.5 1558.5V1539.5M665.5 129.5V148.5M872.1 1558.5V1539.5M872.1 129.5V148.5M1078.8 1558.5V1539.5M1078.8 129.5V148.5M1285.5 1558.5V1539.5M1285.5 129.5V148.5M1492.1 1558.5V1539.5M1492.1 129.5V148.5M1698.8 1558.5V1539.5M1698.8 129.5V148.5M1905.4 1558.5V1539.5M1905.4 129.5V148.5M2112.1 1558.5V1539.5M2112.1 129.5V148.5M304.5 129.0H323.5M2112.4 129.0H2093.4M304.5 275.6H323.5M2112.4 275.6H2093.4M304.5 422.1H323.5M2112.4 422.1H2093.4M304.5 568.7H323.5M2112.4 568.7H2093.4M304.5 715.3H323.5M2112.4 715.3H2093.4M304.5 861.9H323.5M2112.4 861.9H2093.4M304.5 1008.5H323.5M2112.4 1008.5H2093.4M304.5 1155.1H323.5M2112.4 1155.1H2093.4M304.5 1301.7H323.5M2112.4 1301.7H2093.4M304.5 1448.3H323.5M2112.4 1448.3H2093.4" stroke="#262626" stroke-width="2.2" fill="none"/><text transform="translate(425.19 1617.50) scale(1.000 1)" x="-0.01" text-anchor="middle" class="tl">-</text><text transform="translate(446.41 1617.50) scale(0.955 1)" x="-0.48" text-anchor="middle" class="tl">0</text><text transform="translate(466.26 1617.50) scale(1.000 1)" x="-0.25" text-anchor="middle" class="tl">.</text><text transform="translate(486.16 1617.50) scale(0.952 1)" x="0.02" text-anchor="middle" class="tl">2</text><text transform="translate(665.58 1617.50) scale(0.955 1)" x="-0.48" text-anchor="middle" class="tl">0</text><text transform="translate(852.10 1617.50) scale(0.955 1)" x="-0.48" text-anchor="middle" class="tl">0</text><text transform="translate(871.95 1617.50) scale(1.000 1)" x="-0.25" text-anchor="middle" class="tl">.</text><text transform="translate(891.85 1617.50) scale(0.952 1)" x="0.02" text-anchor="middle" class="tl">2</text><text transform="translate(1058.75 1617.50) scale(0.955 1)" x="-0.48" text-anchor="middle" class="tl">0</text><text transform="translate(1078.60 1617.50) scale(1.000 1)" x="-0.25" text-anchor="middle" class="tl">.</text><text transform="translate(1099.00 1617.50) scale(1.000 1)" x="0.02" text-anchor="middle" class="tl">4</text><text transform="translate(1265.40 1617.50) scale(0.955 1)" x="-0.48" text-anchor="middle" class="tl">0</text><text transform="translate(1285.25 1617.50) scale(1.000 1)" x="-0.25" text-anchor="middle" class="tl">.</text><text transform="translate(1305.65 1617.50) scale(1.000 1)" x="0.02" text-anchor="middle" class="tl">6</text><text transform="translate(1472.05 1617.50) scale(0.955 1)" x="-0.48" text-anchor="middle" class="tl">0</text><text transform="translate(1491.90 1617.50) scale(1.000 1)" x="-0.25" text-anchor="middle" class="tl">.</text><text transform="translate(1512.30 1617.50) scale(1.000 1)" x="0.02" text-anchor="middle" class="tl">8</text><text transform="translate(1698.83 1617.50) scale(0.950 1)" x="-0.48" text-anchor="middle" class="tl">1</text><text transform="translate(1885.35 1617.50) scale(0.950 1)" x="-0.48" text-anchor="middle" class="tl">1</text><text transform="translate(1905.20 1617.50) scale(1.000 1)" x="-0.25" text-anchor="middle" class="tl">.</text><text transform="translate(1925.10 1617.50) scale(0.952 1)" x="0.02" text-anchor="middle" class="tl">2</text><text transform="translate(2092.00 1617.50) scale(0.950 1)" x="-0.48" text-anchor="middle" class="tl">1</text><text transform="translate(2111.85 1617.50) scale(1.000 1)" x="-0.25" text-anchor="middle" class="tl">.</text><text transform="translate(2132.25 1617.50) scale(1.000 1)" x="0.02" text-anchor="middle" class="tl">4</text><text transform="translate(773.49 96.00) scale(1.029 1)" x="-0.26" text-anchor="middle" class="ti">6</text><text transform="translate(815.74 96.00) scale(1.000 1)" x="-0.26" text-anchor="middle" class="ti">0</text><text transform="translate(858.49 96.00) scale(0.941 1)" x="-0.26" text-anchor="middle" class="ti">5</text><text transform="translate(901.24 96.00) scale(0.973 1)" x="0.24" text-anchor="middle" class="ti">4</text><text transform="translate(943.99 96.00) scale(1.000 1)" x="-0.26" text-anchor="middle" class="ti">0</text><text transform="translate(986.74 96.00) scale(1.000 1)" x="-0.26" text-anchor="middle" class="ti">0</text><text transform="translate(1029.99 96.00) scale(0.971 1)" x="-0.26" text-anchor="middle" class="ti">3</text><text transform="translate(1072.74 96.00) scale(0.971 1)" x="-0.26" text-anchor="middle" class="ti">3</text><text transform="translate(1115.49 96.00) scale(1.029 1)" x="-0.26" text-anchor="middle" class="ti">6</text><text transform="translate(1147.24 96.00) scale(1.000 1)" x="-0.14" text-anchor="middle" class="ti">.</text><text transform="translate(1184.60 96.00) scale(0.918 1)" x="0.11" text-anchor="middle" class="ti">O</text><text transform="translate(1237.49 96.00) scale(0.918 1)" x="0.11" text-anchor="middle" class="ti">O</text><text transform="translate(1274.38 96.00) scale(1.000 1)" x="-0.14" text-anchor="middle" class="ti">.</text><text transform="translate(1305.02 96.00) scale(0.957 1)" x="0.18" text-anchor="middle" class="ti">A</text><text transform="translate(1351.49 96.00) scale(0.955 1)" x="-0.32" text-anchor="middle" class="ti">X</text><text transform="translate(1396.52 96.00) scale(0.850 1)" x="-1.82" text-anchor="middle" class="ti">E</text><text transform="translate(1440.47 96.00) scale(0.867 1)" x="0.14" text-anchor="middle" class="ti">C</text><text transform="translate(1485.38 96.00) scale(0.971 1)" x="-0.26" text-anchor="middle" class="ti">3</text><text transform="translate(1517.13 96.00) scale(1.000 1)" x="-0.14" text-anchor="middle" class="ti">.</text><text transform="translate(1549.99 96.00) scale(0.850 1)" x="-1.82" text-anchor="middle" class="ti">E</text><text transform="translate(1595.44 96.00) scale(0.950 1)" x="-0.36" text-anchor="middle" class="ti">H</text><text transform="translate(1642.96 96.00) scale(0.850 1)" x="-1.82" text-anchor="middle" class="ti">E</text>
<g fill="none" stroke-width="2" stroke-linejoin="round" stroke-linecap="round">
<use href="#tr1" transform="translate(0 1448.27)" stroke="#808080"/><use href="#tr2" transform="translate(0 1448.27)" stroke="#808080"/><use href="#tr3" transform="translate(0 1448.27)" stroke="#808080"/><use href="#tr4" transform="translate(0 1448.27)" stroke="#808080"/><use href="#tr5" transform="translate(0 1448.27)" stroke="#808080"/><use href="#tr6" transform="translate(0 1448.27)" stroke="#808080"/><use href="#tr7" transform="translate(0 1448.27)" stroke="#808080"/><use href="#tr0" transform="translate(0 1448.27)" stroke="#0000ff"/>
<use href="#tr0" transform="translate(0 275.55)" stroke="#0000ff"/><use href="#tr1" transform="translate(0 422.14)" stroke="#484848"/><use href="#tr2" transform="translate(0 568.73)" stroke="#484848"/><use href="#tr3" transform="translate(0 715.32)" stroke="#484848"/><use href="#tr4" transform="translate(0 861.91)" stroke="#484848"/><use href="#tr5" transform="translate(0 1008.50)" stroke="#484848"/><use href="#tr6" transform="translate(0 1155.09)" stroke="#484848"/><use href="#tr7" transform="translate(0 1301.68)" stroke="#484848"/>
</g>
<text transform="translate(337.80 254.30) scale(1.000 1)" x="0.02" text-anchor="middle" class="lb">6</text><text transform="translate(364.36 254.30) scale(0.955 1)" x="-0.48" text-anchor="middle" class="lb">0</text><text transform="translate(390.43 254.30) scale(0.952 1)" x="0.02" text-anchor="middle" class="lb">5</text><text transform="translate(417.49 254.30) scale(1.000 1)" x="0.02" text-anchor="middle" class="lb">4</text><text transform="translate(444.05 254.30) scale(0.955 1)" x="-0.48" text-anchor="middle" class="lb">0</text><text transform="translate(470.61 254.30) scale(0.955 1)" x="-0.48" text-anchor="middle" class="lb">0</text><text transform="translate(497.18 254.30) scale(1.000 1)" x="0.02" text-anchor="middle" class="lb">3</text><text transform="translate(523.74 254.30) scale(1.000 1)" x="0.02" text-anchor="middle" class="lb">3</text><text transform="translate(550.30 254.30) scale(1.000 1)" x="0.02" text-anchor="middle" class="lb">6</text><text transform="translate(583.63 254.30) scale(1.000 1)" x="-0.16" text-anchor="middle" class="lb">|</text><text transform="translate(617.46 254.30) scale(0.950 1)" x="-0.48" text-anchor="middle" class="lb">1</text><text transform="translate(637.02 254.30) scale(1.000 1)" x="-0.25" text-anchor="middle" class="lb">.</text><text transform="translate(657.28 254.30) scale(0.955 1)" x="-0.48" text-anchor="middle" class="lb">0</text><text transform="translate(683.85 254.30) scale(0.955 1)" x="-0.48" text-anchor="middle" class="lb">0</text><text transform="translate(337.80 400.85) scale(0.950 1)" x="-0.48" text-anchor="middle" class="lb">1</text><text transform="translate(363.86 400.85) scale(0.952 1)" x="0.02" text-anchor="middle" class="lb">2</text><text transform="translate(390.93 400.85) scale(0.950 1)" x="-0.48" text-anchor="middle" class="lb">1</text><text transform="translate(417.49 400.85) scale(1.000 1)" x="0.02" text-anchor="middle" class="lb">4</text><text transform="translate(443.55 400.85) scale(0.952 1)" x="0.02" text-anchor="middle" class="lb">2</text><text transform="translate(470.61 400.85) scale(1.000 1)" x="0.02" text-anchor="middle" class="lb">6</text><text transform="translate(497.18 400.85) scale(1.000 1)" x="0.02" text-anchor="middle" class="lb">4</text><text transform="translate(530.50 400.85) scale(1.000 1)" x="-0.16" text-anchor="middle" class="lb">|</text><text transform="translate(564.33 400.85) scale(0.955 1)" x="-0.48" text-anchor="middle" class="lb">0</text><text transform="translate(583.89 400.85) scale(1.000 1)" x="-0.25" text-anchor="middle" class="lb">.</text><text transform="translate(603.66 400.85) scale(0.952 1)" x="0.02" text-anchor="middle" class="lb">7</text><text transform="translate(630.22 400.85) scale(0.952 1)" x="0.02" text-anchor="middle" class="lb">7</text><text transform="translate(337.80 547.40) scale(0.950 1)" x="-0.48" text-anchor="middle" class="lb">1</text><text transform="translate(364.36 547.40) scale(0.950 1)" x="-0.48" text-anchor="middle" class="lb">1</text><text transform="translate(390.93 547.40) scale(0.950 1)" x="-0.48" text-anchor="middle" class="lb">1</text><text transform="translate(417.49 547.40) scale(0.955 1)" x="-0.48" text-anchor="middle" class="lb">0</text><text transform="translate(444.05 547.40) scale(1.000 1)" x="0.02" text-anchor="middle" class="lb">3</text><text transform="translate(470.61 547.40) scale(1.000 1)" x="0.02" text-anchor="middle" class="lb">8</text><text transform="translate(497.18 547.40) scale(1.000 1)" x="0.02" text-anchor="middle" class="lb">3</text><text transform="translate(530.50 547.40) scale(1.000 1)" x="-0.16" text-anchor="middle" class="lb">|</text><text transform="translate(564.33 547.40) scale(0.955 1)" x="-0.48" text-anchor="middle" class="lb">0</text><text transform="translate(583.89 547.40) scale(1.000 1)" x="-0.25" text-anchor="middle" class="lb">.</text><text transform="translate(603.66 547.40) scale(0.952 1)" x="0.02" text-anchor="middle" class="lb">7</text><text transform="translate(630.72 547.40) scale(1.000 1)" x="0.02" text-anchor="middle" class="lb">4</text><text transform="translate(337.80 693.95) scale(0.950 1)" x="-0.48" text-anchor="middle" class="lb">1</text><text transform="translate(363.86 693.95) scale(0.952 1)" x="0.02" text-anchor="middle" class="lb">5</text><text transform="translate(390.93 693.95) scale(0.955 1)" x="-0.48" text-anchor="middle" class="lb">0</text><text transform="translate(417.49 693.95) scale(1.000 1)" x="0.02" text-anchor="middle" class="lb">6</text><text transform="translate(444.05 693.95) scale(1.000 1)" x="0.02" text-anchor="middle" class="lb">3</text><text transform="translate(470.11 693.95) scale(0.952 1)" x="0.02" text-anchor="middle" class="lb">7</text><text transform="translate(497.18 693.95) scale(1.000 1)" x="0.02" text-anchor="middle" class="lb">8</text><text transform="translate(530.50 693.95) scale(1.000 1)" x="-0.16" text-anchor="middle" class="lb">|</text><text transform="translate(564.33 693.95) scale(0.955 1)" x="-0.48" text-anchor="middle" class="lb">0</text><text transform="translate(583.89 693.95) scale(1.000 1)" x="-0.25" text-anchor="middle" class="lb">.</text><text transform="translate(603.66 693.95) scale(0.952 1)" x="0.02" text-anchor="middle" class="lb">7</text><text transform="translate(630.72 693.95) scale(1.000 1)" x="0.02" text-anchor="middle" class="lb">3</text><text transform="translate(337.80 840.50) scale(0.950 1)" x="-0.48" text-anchor="middle" class="lb">1</text><text transform="translate(363.86 840.50) scale(0.952 1)" x="0.02" text-anchor="middle" class="lb">5</text><text transform="translate(390.93 840.50) scale(0.950 1)" x="-0.48" text-anchor="middle" class="lb">1</text><text transform="translate(417.49 840.50) scale(0.955 1)" x="-0.48" text-anchor="middle" class="lb">0</text><text transform="translate(444.05 840.50) scale(1.000 1)" x="0.02" text-anchor="middle" class="lb">6</text><text transform="translate(470.11 840.50) scale(0.952 1)" x="0.02" text-anchor="middle" class="lb">7</text><text transform="translate(496.68 840.50) scale(0.952 1)" x="0.02" text-anchor="middle" class="lb">7</text><text transform="translate(530.50 840.50) scale(1.000 1)" x="-0.16" text-anchor="middle" class="lb">|</text><text transform="translate(564.33 840.50) scale(0.955 1)" x="-0.48" text-anchor="middle" class="lb">0</text><text transform="translate(583.89 840.50) scale(1.000 1)" x="-0.25" text-anchor="middle" class="lb">.</text><text transform="translate(603.66 840.50) scale(0.952 1)" x="0.02" text-anchor="middle" class="lb">7</text><text transform="translate(630.22 840.50) scale(0.952 1)" x="0.02" text-anchor="middle" class="lb">2</text><text transform="translate(337.80 987.05) scale(0.950 1)" x="-0.48" text-anchor="middle" class="lb">1</text><text transform="translate(364.36 987.05) scale(0.955 1)" x="-0.48" text-anchor="middle" class="lb">0</text><text transform="translate(390.93 987.05) scale(0.955 1)" x="-0.48" text-anchor="middle" class="lb">0</text><text transform="translate(416.99 987.05) scale(0.952 1)" x="0.02" text-anchor="middle" class="lb">5</text><text transform="translate(444.05 987.05) scale(1.000 1)" x="0.02" text-anchor="middle" class="lb">8</text><text transform="translate(470.61 987.05) scale(1.000 1)" x="0.02" text-anchor="middle" class="lb">4</text><text transform="translate(497.18 987.05) scale(0.955 1)" x="-0.48" text-anchor="middle" class="lb">0</text><text transform="translate(530.50 987.05) scale(1.000 1)" x="-0.16" text-anchor="middle" class="lb">|</text><text transform="translate(564.33 987.05) scale(0.955 1)" x="-0.48" text-anchor="middle" class="lb">0</text><text transform="translate(583.89 987.05) scale(1.000 1)" x="-0.25" text-anchor="middle" class="lb">.</text><text transform="translate(603.66 987.05) scale(0.952 1)" x="0.02" text-anchor="middle" class="lb">7</text><text transform="translate(630.22 987.05) scale(0.952 1)" x="0.02" text-anchor="middle" class="lb">2</text><text transform="translate(337.80 1133.60) scale(0.950 1)" x="-0.48" text-anchor="middle" class="lb">1</text><text transform="translate(364.36 1133.60) scale(0.950 1)" x="-0.48" text-anchor="middle" class="lb">1</text><text transform="translate(390.93 1133.60) scale(1.000 1)" x="0.02" text-anchor="middle" class="lb">8</text><text transform="translate(417.49 1133.60) scale(0.955 1)" x="-0.48" text-anchor="middle" class="lb">0</text><text transform="translate(444.05 1133.60) scale(1.000 1)" x="0.02" text-anchor="middle" class="lb">3</text><text transform="translate(470.61 1133.60) scale(1.000 1)" x="0.02" text-anchor="middle" class="lb">4</text><text transform="translate(497.18 1133.60) scale(0.955 1)" x="-0.48" text-anchor="middle" class="lb">0</text><text transform="translate(530.50 1133.60) scale(1.000 1)" x="-0.16" text-anchor="middle" class="lb">|</text><text transform="translate(564.33 1133.60) scale(0.955 1)" x="-0.48" text-anchor="middle" class="lb">0</text><text transform="translate(583.89 1133.60) scale(1.000 1)" x="-0.25" text-anchor="middle" class="lb">.</text><text transform="translate(603.66 1133.60) scale(0.952 1)" x="0.02" text-anchor="middle" class="lb">7</text><text transform="translate(630.72 1133.60) scale(0.950 1)" x="-0.48" text-anchor="middle" class="lb">1</text><text transform="translate(337.80 1280.15) scale(0.950 1)" x="-0.48" text-anchor="middle" class="lb">1</text><text transform="translate(363.86 1280.15) scale(0.952 1)" x="0.02" text-anchor="middle" class="lb">5</text><text transform="translate(390.93 1280.15) scale(0.955 1)" x="-0.48" text-anchor="middle" class="lb">0</text><text transform="translate(416.99 1280.15) scale(0.952 1)" x="0.02" text-anchor="middle" class="lb">5</text><text transform="translate(444.05 1280.15) scale(0.950 1)" x="-0.48" text-anchor="middle" class="lb">1</text><text transform="translate(470.61 1280.15) scale(1.000 1)" x="0.02" text-anchor="middle" class="lb">3</text><text transform="translate(497.18 1280.15) scale(0.950 1)" x="-0.48" text-anchor="middle" class="lb">1</text><text transform="translate(530.50 1280.15) scale(1.000 1)" x="-0.16" text-anchor="middle" class="lb">|</text><text transform="translate(564.33 1280.15) scale(0.955 1)" x="-0.48" text-anchor="middle" class="lb">0</text><text transform="translate(583.89 1280.15) scale(1.000 1)" x="-0.25" text-anchor="middle" class="lb">.</text><text transform="translate(603.66 1280.15) scale(0.952 1)" x="0.02" text-anchor="middle" class="lb">7</text><text transform="translate(630.72 1280.15) scale(0.950 1)" x="-0.48" text-anchor="middle" class="lb">1</text>
<rect x="661.5" y="239.1" width="8" height="73" fill="#ff0000"/><rect x="1477.9" y="239.1" width="8" height="73" fill="#00e000"/><rect x="1295.3" y="385.6" width="8" height="73" fill="#00e000"/><rect x="981.0" y="532.2" width="8" height="73" fill="#00e000"/><rect x="1444.2" y="678.8" width="8" height="73" fill="#00e000"/><rect x="1375.7" y="825.4" width="8" height="73" fill="#00e000"/><rect x="1457.1" y="972.0" width="8" height="73" fill="#00e000"/><rect x="1532.9" y="1118.6" width="8" height="73" fill="#00e000"/><rect x="969.7" y="1265.2" width="8" height="73" fill="#00e000"/>
</svg>
</body></html>
